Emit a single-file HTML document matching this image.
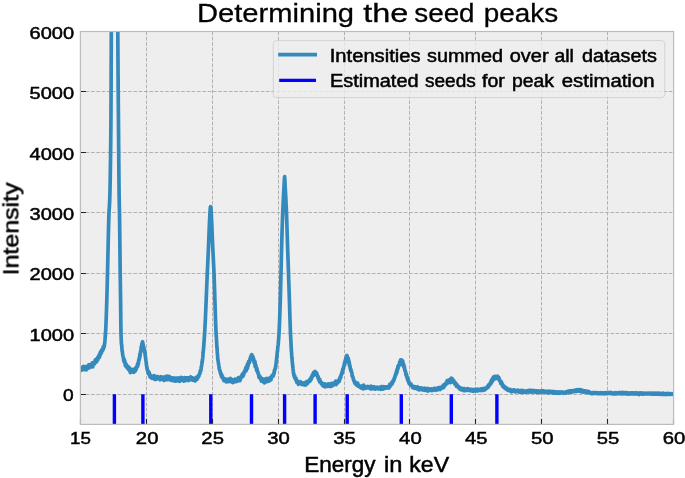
<!DOCTYPE html>
<html><head><meta charset="utf-8"><title>Determining the seed peaks</title>
<style>html,body{margin:0;padding:0;background:#fff;}body{width:685px;height:478px;overflow:hidden;font-family:"Liberation Sans",sans-serif;}</style></head>
<body>
<svg width="685" height="478" viewBox="0 0 685 478" style="display:block" font-family="Liberation Sans, sans-serif">
<rect width="685" height="478" fill="#fff"/>
<rect x="80.4" y="31.5" width="593.2" height="392.9" fill="#eeeeee"/>
<defs><clipPath id="c"><rect x="80.4" y="31.5" width="593.2" height="392.9"/></clipPath></defs>
<path d="M146.50,31.5V424.4M212.50,31.5V424.4M278.50,31.5V424.4M344.50,31.5V424.4M409.50,31.5V424.4M475.50,31.5V424.4M541.50,31.5V424.4M607.50,31.5V424.4M80.4,394.50H673.6M80.4,333.50H673.6M80.4,273.50H673.6M80.4,212.50H673.6M80.4,152.50H673.6M80.4,91.50H673.6" stroke="#b2b2b2" stroke-width="1" stroke-dasharray="3.7,1.6" fill="none"/>
<path clip-path="url(#c)" d="M80.40,369.1 L80.52,369.4 L80.64,368.8 L80.76,368.2 L80.88,368.6 L81.00,368.1 L81.12,369.1 L81.24,370.4 L81.36,368.5 L81.48,368.4 L81.60,369.5 L81.72,369.3 L81.84,369.1 L81.96,368.0 L82.08,368.9 L82.20,369.6 L82.32,367.6 L82.44,368.5 L82.56,367.0 L82.68,367.6 L82.80,367.0 L82.92,368.6 L83.04,367.6 L83.16,369.1 L83.28,369.0 L83.40,368.6 L83.52,366.3 L83.64,368.2 L83.76,368.7 L83.88,368.8 L84.00,367.2 L84.12,368.2 L84.24,367.7 L84.36,367.8 L84.48,369.6 L84.60,367.7 L84.72,368.5 L84.84,369.4 L84.96,367.8 L85.08,368.3 L85.20,368.5 L85.32,368.4 L85.44,367.0 L85.56,368.3 L85.68,369.5 L85.80,366.5 L85.92,368.9 L86.04,368.1 L86.16,367.3 L86.28,369.9 L86.40,368.6 L86.52,366.5 L86.64,367.7 L86.76,368.2 L86.88,367.3 L87.00,368.2 L87.12,367.3 L87.24,368.0 L87.36,368.7 L87.48,366.5 L87.60,367.3 L87.72,366.6 L87.84,367.1 L87.96,365.7 L88.08,366.3 L88.20,366.6 L88.32,367.7 L88.44,367.9 L88.56,365.3 L88.68,365.8 L88.80,367.2 L88.92,364.5 L89.04,366.0 L89.16,366.3 L89.28,367.7 L89.40,367.0 L89.52,366.0 L89.64,365.9 L89.76,366.0 L89.88,367.7 L90.00,365.7 L90.12,365.8 L90.24,366.4 L90.36,365.9 L90.48,365.8 L90.60,364.8 L90.72,365.9 L90.84,365.4 L90.96,367.0 L91.08,366.4 L91.20,365.6 L91.32,366.3 L91.44,365.2 L91.56,366.6 L91.68,365.4 L91.80,365.9 L91.92,363.9 L92.04,365.6 L92.16,363.4 L92.28,362.9 L92.40,364.6 L92.52,363.9 L92.64,364.9 L92.76,367.0 L92.88,363.7 L93.00,363.8 L93.12,364.6 L93.24,364.8 L93.36,364.0 L93.48,363.8 L93.60,364.6 L93.72,364.3 L93.84,362.6 L93.96,363.4 L94.08,363.4 L94.20,362.2 L94.32,363.4 L94.44,362.1 L94.56,363.9 L94.68,362.9 L94.80,362.7 L94.92,361.9 L95.04,362.2 L95.16,360.1 L95.28,360.9 L95.40,362.3 L95.52,359.5 L95.64,362.5 L95.76,359.6 L95.88,362.1 L96.00,360.3 L96.12,361.8 L96.24,361.0 L96.36,359.1 L96.48,361.8 L96.60,361.8 L96.72,360.1 L96.84,359.7 L96.96,359.7 L97.08,358.7 L97.20,360.6 L97.32,358.7 L97.44,359.1 L97.56,358.1 L97.68,358.1 L97.80,357.2 L97.92,359.6 L98.04,358.0 L98.16,358.9 L98.28,357.8 L98.40,356.8 L98.52,357.0 L98.64,356.6 L98.76,356.9 L98.88,356.3 L99.00,356.2 L99.12,354.9 L99.24,355.2 L99.36,357.5 L99.48,354.9 L99.60,354.3 L99.72,355.5 L99.84,356.4 L99.96,353.2 L100.08,354.2 L100.20,353.6 L100.32,352.1 L100.44,354.5 L100.56,353.5 L100.68,353.3 L100.80,352.2 L100.92,353.3 L101.04,352.0 L101.16,352.1 L101.28,350.9 L101.40,350.5 L101.52,353.0 L101.64,350.8 L101.76,351.4 L101.88,350.8 L102.00,350.1 L102.12,349.8 L102.24,350.7 L102.36,349.5 L102.48,349.4 L102.60,349.4 L102.72,350.4 L102.84,349.7 L102.96,349.1 L103.08,347.9 L103.20,346.8 L103.32,349.1 L103.44,348.8 L103.56,347.4 L103.68,347.8 L103.80,347.7 L103.92,347.4 L104.04,347.1 L104.16,345.5 L104.28,346.7 L104.40,343.9 L104.52,344.7 L104.64,343.5 L104.76,342.7 L104.88,342.1 L105.00,340.0 L105.12,338.2 L105.24,336.6 L105.36,335.5 L105.48,333.6 L105.60,331.9 L105.72,329.9 L105.84,327.1 L105.96,324.3 L106.08,321.5 L106.20,318.2 L106.32,314.8 L106.44,311.2 L106.56,307.5 L106.68,303.7 L106.80,300.0 L106.92,295.9 L107.04,291.4 L107.16,286.8 L107.28,281.9 L107.40,277.1 L107.52,272.2 L107.64,267.3 L107.76,262.1 L107.88,256.8 L108.00,251.5 L108.12,246.0 L108.24,240.7 L108.36,235.5 L108.48,230.6 L108.60,225.6 L108.72,221.5 L108.84,217.5 L108.96,214.1 L109.08,211.2 L109.20,209.1 L109.32,207.5 L109.44,205.5 L109.56,203.4 L109.68,200.6 L109.80,197.3 L109.92,193.0 L110.04,188.0 L110.16,182.5 L110.28,175.9 L110.40,168.3 L110.52,159.9 L110.64,150.3 L110.76,139.4 L110.88,127.2 L111.00,109.2 L111.12,80.9 L111.24,47.9 L111.36,15.4 L111.48,-17.7 L111.60,-50.0 L111.72,-50.0 L111.84,-50.0 L111.96,-50.0 L112.08,-50.0 L112.20,-50.0 L112.32,-50.0 L112.44,-50.0 L112.56,-50.0 L112.68,-50.0 L112.80,-50.0 L112.92,-50.0 L113.04,-50.0 L113.16,-50.0 L113.28,-50.0 L113.40,-50.0 L113.52,-50.0 L113.64,-50.0 L113.76,-50.0 L113.88,-50.0 L114.00,-50.0 L114.12,-50.0 L114.24,-50.0 L114.36,-50.0 L114.48,-50.0 L114.60,-50.0 L114.72,-50.0 L114.84,-50.0 L114.96,-50.0 L115.08,-50.0 L115.20,-50.0 L115.32,-50.0 L115.44,-50.0 L115.56,-50.0 L115.68,-50.0 L115.80,-50.0 L115.92,-50.0 L116.04,-50.0 L116.16,-50.0 L116.28,-50.0 L116.40,-50.0 L116.52,-50.0 L116.64,-50.0 L116.76,-50.0 L116.88,-50.0 L117.00,-50.0 L117.12,-50.0 L117.24,-50.0 L117.36,-50.0 L117.48,-43.1 L117.60,-11.6 L117.72,15.8 L117.84,38.6 L117.96,58.0 L118.08,74.8 L118.20,90.0 L118.32,104.1 L118.44,117.9 L118.56,132.2 L118.68,147.2 L118.80,161.9 L118.92,175.7 L119.04,187.9 L119.16,197.5 L119.28,203.9 L119.40,208.5 L119.52,214.2 L119.64,222.5 L119.76,232.9 L119.88,244.3 L120.00,255.7 L120.12,266.6 L120.24,275.9 L120.36,284.0 L120.48,291.6 L120.60,300.0 L120.72,310.9 L120.84,322.8 L120.96,332.0 L121.08,336.0 L121.20,338.8 L121.32,341.3 L121.44,343.9 L121.56,344.5 L121.68,345.6 L121.80,346.5 L121.92,348.5 L122.04,350.5 L122.16,351.3 L122.28,351.1 L122.40,352.0 L122.52,353.1 L122.64,354.5 L122.76,354.8 L122.88,355.8 L123.00,356.5 L123.12,356.6 L123.24,357.3 L123.36,358.0 L123.48,358.3 L123.60,359.2 L123.72,360.8 L123.84,360.2 L123.96,360.2 L124.08,359.2 L124.20,361.2 L124.32,359.7 L124.44,360.4 L124.56,362.7 L124.68,362.9 L124.80,362.5 L124.92,361.4 L125.04,362.8 L125.16,362.8 L125.28,364.2 L125.40,365.9 L125.52,364.3 L125.64,363.7 L125.76,363.6 L125.88,364.8 L126.00,364.9 L126.12,364.2 L126.24,365.6 L126.36,364.6 L126.48,366.8 L126.60,367.0 L126.72,367.2 L126.84,366.0 L126.96,367.1 L127.08,366.7 L127.20,366.6 L127.32,366.8 L127.44,366.1 L127.56,366.1 L127.68,368.3 L127.80,367.5 L127.92,368.0 L128.04,368.9 L128.16,366.5 L128.28,367.5 L128.40,368.5 L128.52,368.9 L128.64,368.3 L128.76,369.7 L128.88,369.1 L129.00,368.0 L129.12,368.3 L129.24,370.1 L129.36,369.9 L129.48,367.8 L129.60,370.9 L129.72,370.4 L129.84,371.2 L129.96,369.7 L130.08,369.9 L130.20,369.2 L130.32,372.7 L130.44,370.2 L130.56,372.0 L130.68,369.9 L130.80,370.8 L130.92,369.0 L131.04,370.3 L131.16,371.7 L131.28,369.5 L131.40,371.9 L131.52,371.1 L131.64,369.8 L131.76,370.3 L131.88,370.4 L132.00,370.8 L132.12,370.3 L132.24,370.0 L132.36,370.6 L132.48,369.8 L132.60,369.6 L132.72,370.8 L132.84,371.7 L132.96,369.3 L133.08,370.9 L133.20,370.2 L133.32,369.9 L133.44,371.7 L133.56,370.3 L133.68,372.3 L133.80,370.0 L133.92,371.1 L134.04,370.5 L134.16,370.0 L134.28,371.3 L134.40,370.5 L134.52,371.2 L134.64,370.6 L134.76,369.5 L134.88,370.4 L135.00,370.5 L135.12,371.2 L135.24,369.4 L135.36,370.0 L135.48,368.4 L135.60,370.2 L135.72,368.5 L135.84,367.7 L135.96,369.0 L136.08,369.7 L136.20,367.3 L136.32,367.4 L136.44,367.4 L136.56,366.8 L136.68,367.8 L136.80,366.6 L136.92,366.4 L137.04,367.2 L137.16,365.8 L137.28,366.4 L137.40,364.9 L137.52,364.4 L137.64,363.5 L137.76,366.1 L137.88,364.0 L138.00,364.0 L138.12,363.4 L138.24,363.1 L138.36,362.6 L138.48,363.6 L138.60,360.8 L138.72,359.9 L138.84,359.9 L138.96,359.1 L139.08,360.3 L139.20,359.9 L139.32,357.9 L139.44,357.1 L139.56,357.4 L139.68,358.2 L139.80,354.3 L139.92,356.4 L140.04,354.6 L140.16,355.6 L140.28,353.4 L140.40,353.2 L140.52,351.6 L140.64,351.2 L140.76,352.1 L140.88,350.9 L141.00,349.3 L141.12,348.1 L141.24,346.6 L141.36,347.0 L141.48,346.7 L141.60,346.0 L141.72,345.3 L141.84,343.8 L141.96,343.9 L142.08,343.3 L142.20,344.1 L142.32,344.5 L142.44,342.0 L142.56,341.8 L142.68,343.0 L142.80,343.0 L142.92,343.4 L143.04,344.5 L143.16,344.3 L143.28,346.2 L143.40,346.0 L143.52,346.9 L143.64,347.0 L143.76,347.1 L143.88,347.4 L144.00,348.6 L144.12,348.9 L144.24,350.2 L144.36,350.6 L144.48,350.1 L144.60,351.9 L144.72,351.4 L144.84,352.6 L144.96,353.5 L145.08,352.9 L145.20,355.3 L145.32,356.1 L145.44,356.8 L145.56,357.5 L145.68,358.5 L145.80,359.1 L145.92,360.5 L146.04,361.3 L146.16,362.6 L146.28,362.8 L146.40,364.6 L146.52,365.4 L146.64,366.1 L146.76,366.6 L146.88,368.0 L147.00,367.2 L147.12,369.1 L147.24,369.5 L147.36,369.9 L147.48,370.4 L147.60,370.0 L147.72,370.7 L147.84,371.7 L147.96,371.9 L148.08,372.0 L148.20,371.1 L148.32,372.9 L148.44,373.7 L148.56,373.8 L148.68,373.5 L148.80,372.4 L148.92,374.5 L149.04,373.9 L149.16,372.3 L149.28,374.7 L149.40,373.5 L149.52,373.8 L149.64,374.5 L149.76,376.2 L149.88,375.0 L150.00,375.7 L150.12,377.0 L150.24,377.1 L150.36,375.9 L150.48,376.0 L150.60,375.3 L150.72,375.9 L150.84,376.9 L150.96,377.0 L151.08,376.9 L151.20,377.7 L151.32,376.5 L151.44,377.1 L151.56,377.9 L151.68,377.8 L151.80,378.3 L151.92,377.9 L152.04,377.3 L152.16,377.9 L152.28,376.9 L152.40,376.3 L152.52,378.2 L152.64,377.7 L152.76,378.0 L152.88,376.4 L153.00,377.5 L153.12,377.3 L153.24,377.1 L153.36,375.9 L153.48,377.6 L153.60,378.6 L153.72,378.2 L153.84,377.4 L153.96,377.9 L154.08,378.5 L154.20,375.6 L154.32,377.8 L154.44,378.4 L154.56,378.5 L154.68,379.3 L154.80,378.9 L154.92,378.2 L155.04,378.2 L155.16,378.6 L155.28,377.4 L155.40,377.9 L155.52,378.7 L155.64,379.5 L155.76,377.8 L155.88,377.9 L156.00,378.1 L156.12,379.0 L156.24,377.9 L156.36,379.1 L156.48,377.1 L156.60,377.7 L156.72,377.7 L156.84,378.5 L156.96,378.7 L157.08,376.6 L157.20,377.1 L157.32,378.1 L157.44,377.3 L157.56,376.6 L157.68,378.7 L157.80,378.2 L157.92,378.2 L158.04,377.4 L158.16,378.7 L158.28,377.6 L158.40,378.7 L158.52,377.0 L158.64,377.1 L158.76,378.0 L158.88,377.2 L159.00,378.4 L159.12,378.0 L159.24,377.0 L159.36,377.9 L159.48,377.5 L159.60,378.6 L159.72,377.3 L159.84,377.5 L159.96,378.9 L160.08,379.8 L160.20,379.6 L160.32,378.0 L160.44,378.1 L160.56,379.3 L160.68,377.9 L160.80,377.2 L160.92,378.1 L161.04,378.4 L161.16,377.4 L161.28,376.7 L161.40,376.9 L161.52,378.7 L161.64,377.5 L161.76,378.1 L161.88,378.4 L162.00,378.7 L162.12,378.0 L162.24,378.7 L162.36,377.5 L162.48,378.0 L162.60,377.4 L162.72,379.3 L162.84,378.3 L162.96,377.7 L163.08,378.1 L163.20,378.2 L163.32,379.0 L163.44,377.0 L163.56,377.5 L163.68,378.0 L163.80,380.5 L163.92,379.2 L164.04,378.3 L164.16,379.0 L164.28,380.1 L164.40,378.1 L164.52,378.0 L164.64,379.3 L164.76,378.7 L164.88,378.9 L165.00,377.9 L165.12,379.9 L165.24,379.7 L165.36,378.7 L165.48,378.8 L165.60,376.5 L165.72,378.8 L165.84,378.0 L165.96,378.6 L166.08,378.8 L166.20,377.9 L166.32,376.7 L166.44,378.5 L166.56,377.5 L166.68,377.8 L166.80,377.6 L166.92,377.8 L167.04,376.2 L167.16,379.1 L167.28,378.3 L167.40,379.0 L167.52,379.7 L167.64,378.1 L167.76,376.5 L167.88,377.3 L168.00,377.0 L168.12,377.6 L168.24,378.1 L168.36,376.3 L168.48,378.3 L168.60,376.7 L168.72,378.3 L168.84,377.9 L168.96,377.8 L169.08,378.0 L169.20,377.6 L169.32,377.5 L169.44,376.6 L169.56,378.0 L169.68,379.6 L169.80,379.8 L169.92,379.2 L170.04,378.7 L170.16,377.6 L170.28,379.4 L170.40,378.2 L170.52,378.2 L170.64,378.1 L170.76,378.4 L170.88,378.0 L171.00,378.4 L171.12,377.6 L171.24,378.2 L171.36,380.5 L171.48,378.6 L171.60,378.5 L171.72,379.2 L171.84,379.4 L171.96,377.9 L172.08,378.7 L172.20,379.7 L172.32,379.2 L172.44,379.2 L172.56,380.4 L172.68,378.6 L172.80,379.3 L172.92,378.9 L173.04,380.6 L173.16,377.8 L173.28,378.9 L173.40,379.1 L173.52,380.1 L173.64,380.1 L173.76,380.8 L173.88,378.4 L174.00,380.3 L174.12,379.5 L174.24,379.2 L174.36,380.2 L174.48,379.1 L174.60,378.1 L174.72,379.6 L174.84,378.6 L174.96,379.4 L175.08,380.2 L175.20,380.2 L175.32,381.2 L175.44,379.8 L175.56,378.7 L175.68,379.3 L175.80,379.2 L175.92,378.9 L176.04,380.3 L176.16,379.4 L176.28,378.2 L176.40,380.4 L176.52,379.8 L176.64,380.1 L176.76,379.9 L176.88,380.3 L177.00,379.8 L177.12,380.8 L177.24,380.1 L177.36,380.0 L177.48,380.0 L177.60,378.4 L177.72,379.5 L177.84,379.4 L177.96,379.7 L178.08,378.4 L178.20,380.9 L178.32,379.6 L178.44,378.5 L178.56,378.0 L178.68,379.2 L178.80,379.3 L178.92,378.8 L179.04,379.4 L179.16,378.8 L179.28,379.8 L179.40,378.7 L179.52,379.3 L179.64,380.1 L179.76,381.4 L179.88,378.4 L180.00,378.9 L180.12,378.5 L180.24,379.9 L180.36,378.3 L180.48,378.8 L180.60,379.2 L180.72,378.4 L180.84,378.4 L180.96,378.8 L181.08,377.4 L181.20,378.0 L181.32,378.8 L181.44,379.3 L181.56,379.0 L181.68,377.7 L181.80,378.7 L181.92,379.8 L182.04,379.6 L182.16,379.0 L182.28,378.4 L182.40,379.6 L182.52,378.6 L182.64,378.1 L182.76,378.4 L182.88,380.3 L183.00,379.2 L183.12,380.0 L183.24,378.6 L183.36,379.8 L183.48,378.5 L183.60,378.9 L183.72,381.1 L183.84,379.6 L183.96,378.5 L184.08,378.9 L184.20,379.2 L184.32,379.9 L184.44,378.5 L184.56,377.5 L184.68,378.7 L184.80,378.9 L184.92,379.0 L185.04,380.0 L185.16,379.1 L185.28,379.5 L185.40,377.9 L185.52,379.6 L185.64,380.6 L185.76,379.5 L185.88,379.0 L186.00,378.9 L186.12,380.3 L186.24,378.0 L186.36,378.7 L186.48,379.2 L186.60,379.4 L186.72,378.4 L186.84,379.0 L186.96,378.5 L187.08,378.9 L187.20,378.6 L187.32,377.8 L187.44,378.7 L187.56,379.5 L187.68,377.9 L187.80,378.5 L187.92,379.3 L188.04,377.8 L188.16,378.8 L188.28,377.8 L188.40,379.6 L188.52,380.6 L188.64,380.3 L188.76,378.5 L188.88,379.3 L189.00,378.7 L189.12,378.7 L189.24,379.9 L189.36,377.5 L189.48,379.5 L189.60,378.6 L189.72,379.8 L189.84,378.8 L189.96,378.1 L190.08,378.9 L190.20,379.3 L190.32,378.7 L190.44,379.1 L190.56,378.2 L190.68,376.9 L190.80,379.4 L190.92,379.3 L191.04,378.8 L191.16,378.8 L191.28,379.6 L191.40,378.4 L191.52,378.2 L191.64,378.6 L191.76,379.8 L191.88,377.7 L192.00,379.8 L192.12,378.3 L192.24,378.0 L192.36,379.9 L192.48,378.8 L192.60,377.8 L192.72,378.6 L192.84,379.7 L192.96,380.0 L193.08,378.6 L193.20,379.3 L193.32,379.6 L193.44,378.5 L193.56,379.3 L193.68,379.0 L193.80,378.6 L193.92,378.7 L194.04,379.1 L194.16,379.1 L194.28,378.6 L194.40,378.7 L194.52,380.0 L194.64,379.3 L194.76,379.8 L194.88,380.1 L195.00,379.6 L195.12,381.0 L195.24,378.4 L195.36,379.8 L195.48,378.8 L195.60,380.6 L195.72,380.5 L195.84,377.5 L195.96,378.3 L196.08,379.6 L196.20,379.7 L196.32,379.7 L196.44,379.0 L196.56,379.3 L196.68,379.4 L196.80,378.7 L196.92,379.5 L197.04,376.9 L197.16,378.9 L197.28,377.5 L197.40,378.8 L197.52,377.8 L197.64,377.1 L197.76,377.8 L197.88,376.7 L198.00,376.5 L198.12,375.8 L198.24,376.7 L198.36,376.9 L198.48,377.0 L198.60,375.9 L198.72,376.6 L198.84,375.6 L198.96,375.3 L199.08,375.5 L199.20,375.5 L199.32,374.2 L199.44,374.0 L199.56,373.7 L199.68,373.5 L199.80,372.5 L199.92,373.5 L200.04,372.1 L200.16,372.3 L200.28,370.9 L200.40,371.3 L200.52,370.9 L200.64,369.8 L200.76,371.0 L200.88,369.4 L201.00,369.8 L201.12,368.7 L201.24,367.0 L201.36,366.6 L201.48,366.5 L201.60,365.7 L201.72,365.0 L201.84,364.1 L201.96,362.4 L202.08,362.8 L202.20,360.8 L202.32,361.6 L202.44,360.0 L202.56,359.0 L202.68,358.2 L202.80,357.4 L202.92,355.2 L203.04,353.8 L203.16,352.8 L203.28,350.8 L203.40,349.9 L203.52,349.7 L203.64,346.8 L203.76,346.0 L203.88,343.4 L204.00,342.5 L204.12,340.5 L204.24,338.8 L204.36,337.1 L204.48,335.5 L204.60,333.4 L204.72,331.5 L204.84,329.3 L204.96,327.3 L205.08,324.9 L205.20,322.7 L205.32,320.0 L205.44,317.6 L205.56,314.5 L205.68,312.0 L205.80,309.3 L205.92,306.3 L206.04,303.3 L206.16,300.5 L206.28,297.4 L206.40,294.6 L206.52,291.9 L206.64,288.8 L206.76,285.6 L206.88,282.7 L207.00,279.9 L207.12,277.3 L207.24,274.3 L207.36,271.7 L207.48,269.2 L207.60,266.6 L207.72,263.8 L207.84,261.1 L207.96,258.4 L208.08,255.8 L208.20,253.0 L208.32,250.7 L208.44,247.8 L208.56,245.1 L208.68,242.4 L208.80,239.3 L208.92,235.9 L209.04,232.9 L209.16,229.9 L209.28,226.7 L209.40,224.0 L209.52,221.8 L209.64,219.3 L209.76,217.3 L209.88,214.4 L210.00,212.3 L210.12,210.4 L210.24,208.6 L210.36,207.4 L210.48,206.7 L210.60,207.2 L210.72,207.0 L210.84,206.9 L210.96,208.7 L211.08,210.3 L211.20,212.5 L211.32,214.7 L211.44,217.0 L211.56,219.4 L211.68,221.9 L211.80,224.2 L211.92,226.8 L212.04,230.0 L212.16,233.2 L212.28,236.0 L212.40,239.3 L212.52,242.5 L212.64,245.1 L212.76,247.7 L212.88,250.1 L213.00,252.5 L213.12,254.9 L213.24,257.2 L213.36,259.7 L213.48,261.9 L213.60,264.3 L213.72,266.7 L213.84,269.4 L213.96,272.0 L214.08,275.0 L214.20,278.3 L214.32,281.6 L214.44,285.2 L214.56,288.9 L214.68,292.7 L214.80,296.6 L214.92,300.6 L215.04,304.6 L215.16,308.4 L215.28,312.4 L215.40,316.0 L215.52,319.5 L215.64,322.9 L215.76,326.1 L215.88,329.1 L216.00,331.5 L216.12,334.1 L216.24,335.9 L216.36,337.7 L216.48,339.8 L216.60,341.1 L216.72,343.9 L216.84,346.2 L216.96,347.8 L217.08,348.6 L217.20,350.5 L217.32,353.3 L217.44,354.1 L217.56,355.3 L217.68,357.2 L217.80,359.3 L217.92,359.8 L218.04,360.3 L218.16,361.4 L218.28,362.5 L218.40,362.6 L218.52,363.0 L218.64,364.5 L218.76,364.6 L218.88,365.8 L219.00,366.6 L219.12,368.7 L219.24,367.2 L219.36,368.3 L219.48,368.9 L219.60,369.8 L219.72,370.8 L219.84,370.3 L219.96,370.5 L220.08,370.5 L220.20,371.4 L220.32,372.8 L220.44,372.9 L220.56,372.5 L220.68,373.4 L220.80,374.0 L220.92,374.6 L221.04,374.2 L221.16,374.7 L221.28,373.9 L221.40,374.6 L221.52,376.8 L221.64,374.3 L221.76,375.9 L221.88,376.5 L222.00,376.3 L222.12,376.2 L222.24,377.0 L222.36,377.2 L222.48,377.4 L222.60,376.3 L222.72,377.8 L222.84,377.4 L222.96,377.9 L223.08,378.6 L223.20,379.1 L223.32,379.4 L223.44,378.6 L223.56,379.7 L223.68,380.1 L223.80,380.2 L223.92,380.5 L224.04,379.5 L224.16,379.6 L224.28,380.4 L224.40,378.9 L224.52,380.2 L224.64,379.7 L224.76,379.9 L224.88,378.9 L225.00,379.5 L225.12,380.3 L225.24,381.0 L225.36,381.1 L225.48,380.3 L225.60,380.2 L225.72,379.8 L225.84,380.7 L225.96,380.2 L226.08,380.9 L226.20,381.8 L226.32,380.5 L226.44,379.3 L226.56,379.8 L226.68,379.4 L226.80,379.6 L226.92,381.5 L227.04,380.7 L227.16,379.3 L227.28,381.0 L227.40,381.5 L227.52,380.2 L227.64,380.0 L227.76,380.2 L227.88,380.7 L228.00,381.0 L228.12,381.4 L228.24,381.4 L228.36,381.4 L228.48,381.5 L228.60,381.0 L228.72,379.2 L228.84,380.3 L228.96,380.7 L229.08,380.1 L229.20,381.1 L229.32,380.1 L229.44,379.7 L229.56,381.5 L229.68,380.9 L229.80,380.5 L229.92,381.1 L230.04,381.2 L230.16,380.6 L230.28,378.4 L230.40,379.8 L230.52,380.0 L230.64,379.6 L230.76,380.5 L230.88,381.3 L231.00,380.0 L231.12,379.5 L231.24,382.0 L231.36,380.0 L231.48,379.4 L231.60,380.6 L231.72,380.7 L231.84,379.9 L231.96,381.0 L232.08,380.0 L232.20,379.7 L232.32,380.5 L232.44,381.0 L232.56,379.9 L232.68,380.7 L232.80,380.3 L232.92,382.6 L233.04,379.8 L233.16,381.5 L233.28,380.3 L233.40,380.3 L233.52,380.9 L233.64,381.0 L233.76,381.3 L233.88,380.6 L234.00,379.9 L234.12,379.9 L234.24,380.7 L234.36,380.8 L234.48,381.4 L234.60,380.6 L234.72,381.1 L234.84,381.5 L234.96,380.4 L235.08,379.1 L235.20,379.4 L235.32,379.2 L235.44,381.6 L235.56,379.7 L235.68,381.3 L235.80,380.8 L235.92,381.7 L236.04,381.1 L236.16,380.3 L236.28,380.2 L236.40,380.4 L236.52,380.4 L236.64,379.9 L236.76,380.2 L236.88,381.4 L237.00,378.9 L237.12,380.3 L237.24,379.4 L237.36,380.2 L237.48,380.7 L237.60,379.9 L237.72,380.5 L237.84,378.7 L237.96,380.6 L238.08,379.3 L238.20,380.2 L238.32,379.8 L238.44,377.6 L238.56,378.9 L238.68,379.6 L238.80,380.6 L238.92,379.5 L239.04,379.4 L239.16,378.1 L239.28,380.2 L239.40,380.4 L239.52,379.0 L239.64,378.7 L239.76,377.5 L239.88,379.3 L240.00,380.6 L240.12,378.9 L240.24,379.2 L240.36,378.6 L240.48,377.3 L240.60,378.9 L240.72,376.8 L240.84,377.5 L240.96,377.7 L241.08,378.0 L241.20,377.5 L241.32,377.3 L241.44,376.3 L241.56,375.8 L241.68,376.6 L241.80,375.9 L241.92,375.3 L242.04,375.1 L242.16,375.5 L242.28,374.3 L242.40,374.6 L242.52,374.2 L242.64,375.4 L242.76,375.4 L242.88,376.5 L243.00,373.6 L243.12,374.0 L243.24,375.1 L243.36,374.0 L243.48,373.8 L243.60,375.1 L243.72,373.4 L243.84,372.5 L243.96,372.2 L244.08,373.3 L244.20,373.0 L244.32,371.5 L244.44,371.6 L244.56,372.5 L244.68,372.4 L244.80,371.2 L244.92,371.9 L245.04,371.6 L245.16,369.5 L245.28,370.5 L245.40,370.8 L245.52,369.8 L245.64,368.2 L245.76,369.5 L245.88,370.1 L246.00,370.5 L246.12,367.2 L246.24,370.8 L246.36,367.5 L246.48,369.0 L246.60,368.9 L246.72,368.5 L246.84,367.5 L246.96,366.1 L247.08,367.4 L247.20,366.0 L247.32,364.2 L247.44,368.4 L247.56,366.4 L247.68,367.1 L247.80,364.4 L247.92,366.2 L248.04,366.1 L248.16,365.8 L248.28,364.1 L248.40,362.8 L248.52,363.4 L248.64,361.3 L248.76,361.4 L248.88,362.7 L249.00,361.4 L249.12,361.8 L249.24,361.5 L249.36,363.0 L249.48,362.2 L249.60,360.6 L249.72,361.5 L249.84,359.3 L249.96,359.4 L250.08,360.3 L250.20,358.0 L250.32,358.6 L250.44,357.3 L250.56,358.4 L250.68,359.6 L250.80,357.0 L250.92,357.6 L251.04,356.2 L251.16,355.7 L251.28,355.3 L251.40,357.7 L251.52,358.5 L251.64,356.3 L251.76,354.7 L251.88,356.5 L252.00,355.5 L252.12,356.9 L252.24,356.7 L252.36,356.9 L252.48,357.5 L252.60,356.8 L252.72,357.3 L252.84,356.3 L252.96,357.8 L253.08,357.2 L253.20,358.7 L253.32,358.2 L253.44,359.5 L253.56,360.1 L253.68,358.8 L253.80,359.7 L253.92,359.9 L254.04,361.7 L254.16,362.9 L254.28,362.5 L254.40,361.8 L254.52,363.7 L254.64,361.5 L254.76,364.4 L254.88,362.9 L255.00,361.5 L255.12,366.4 L255.24,365.8 L255.36,364.0 L255.48,365.4 L255.60,365.4 L255.72,366.0 L255.84,365.1 L255.96,366.1 L256.08,367.4 L256.20,367.6 L256.32,368.7 L256.44,368.2 L256.56,370.3 L256.68,368.4 L256.80,369.5 L256.92,368.3 L257.04,369.2 L257.16,371.4 L257.28,370.1 L257.40,371.6 L257.52,371.5 L257.64,371.2 L257.76,372.0 L257.88,372.3 L258.00,372.7 L258.12,373.9 L258.24,374.1 L258.36,373.6 L258.48,373.7 L258.60,374.8 L258.72,374.8 L258.84,375.9 L258.96,377.4 L259.08,376.3 L259.20,375.9 L259.32,376.1 L259.44,375.8 L259.56,375.9 L259.68,376.1 L259.80,376.7 L259.92,376.9 L260.04,377.9 L260.16,377.3 L260.28,377.6 L260.40,377.0 L260.52,379.3 L260.64,378.6 L260.76,379.7 L260.88,379.1 L261.00,379.8 L261.12,378.6 L261.24,379.5 L261.36,381.1 L261.48,378.3 L261.60,380.2 L261.72,380.6 L261.84,379.8 L261.96,380.1 L262.08,380.6 L262.20,379.2 L262.32,380.1 L262.44,379.1 L262.56,379.3 L262.68,379.5 L262.80,379.9 L262.92,380.2 L263.04,380.5 L263.16,379.1 L263.28,381.8 L263.40,381.2 L263.52,380.9 L263.64,380.1 L263.76,380.4 L263.88,381.0 L264.00,380.9 L264.12,379.3 L264.24,381.2 L264.36,383.0 L264.48,379.2 L264.60,381.5 L264.72,381.0 L264.84,380.6 L264.96,381.8 L265.08,379.8 L265.20,380.9 L265.32,381.9 L265.44,380.5 L265.56,380.4 L265.68,380.8 L265.80,380.3 L265.92,381.9 L266.04,379.9 L266.16,381.3 L266.28,379.6 L266.40,381.1 L266.52,380.4 L266.64,378.4 L266.76,380.5 L266.88,379.6 L267.00,380.0 L267.12,381.6 L267.24,379.4 L267.36,379.4 L267.48,381.4 L267.60,380.3 L267.72,381.4 L267.84,380.4 L267.96,379.3 L268.08,379.9 L268.20,380.9 L268.32,380.7 L268.44,379.8 L268.56,379.8 L268.68,379.6 L268.80,379.2 L268.92,381.1 L269.04,379.5 L269.16,378.6 L269.28,379.0 L269.40,379.9 L269.52,379.8 L269.64,379.1 L269.76,378.6 L269.88,379.0 L270.00,377.6 L270.12,377.8 L270.24,379.4 L270.36,378.3 L270.48,378.9 L270.60,379.4 L270.72,378.9 L270.84,378.3 L270.96,379.8 L271.08,378.6 L271.20,377.7 L271.32,378.4 L271.44,378.0 L271.56,376.9 L271.68,377.5 L271.80,377.2 L271.92,375.7 L272.04,377.0 L272.16,376.7 L272.28,376.5 L272.40,375.4 L272.52,376.2 L272.64,376.3 L272.76,376.2 L272.88,375.0 L273.00,376.1 L273.12,374.5 L273.24,375.0 L273.36,375.8 L273.48,374.1 L273.60,373.9 L273.72,374.7 L273.84,373.3 L273.96,373.0 L274.08,373.0 L274.20,373.2 L274.32,370.5 L274.44,371.1 L274.56,370.6 L274.68,370.1 L274.80,369.8 L274.92,369.4 L275.04,369.7 L275.16,368.4 L275.28,368.6 L275.40,368.2 L275.52,366.8 L275.64,366.6 L275.76,366.7 L275.88,365.1 L276.00,363.6 L276.12,363.0 L276.24,361.5 L276.36,361.2 L276.48,360.5 L276.60,358.4 L276.72,357.7 L276.84,357.3 L276.96,355.2 L277.08,354.5 L277.20,352.7 L277.32,351.7 L277.44,350.8 L277.56,351.3 L277.68,348.7 L277.80,347.5 L277.92,346.3 L278.04,345.4 L278.16,344.7 L278.28,343.1 L278.40,342.8 L278.52,340.4 L278.64,339.0 L278.76,337.2 L278.88,335.5 L279.00,333.4 L279.12,331.5 L279.24,329.2 L279.36,326.6 L279.48,323.5 L279.60,320.8 L279.72,317.4 L279.84,314.0 L279.96,310.5 L280.08,306.9 L280.20,303.2 L280.32,299.3 L280.44,295.2 L280.56,290.8 L280.68,286.0 L280.80,281.1 L280.92,276.2 L281.04,271.3 L281.16,266.3 L281.28,261.2 L281.40,255.9 L281.52,251.0 L281.64,246.2 L281.76,241.8 L281.88,237.7 L282.00,233.4 L282.12,229.4 L282.24,225.7 L282.36,222.1 L282.48,218.7 L282.60,215.4 L282.72,212.4 L282.84,209.3 L282.96,206.9 L283.08,204.0 L283.20,201.6 L283.32,199.2 L283.44,196.8 L283.56,194.5 L283.68,192.4 L283.80,190.4 L283.92,188.3 L284.04,186.2 L284.16,183.6 L284.28,181.2 L284.40,179.1 L284.52,177.9 L284.64,176.7 L284.76,178.9 L284.88,180.5 L285.00,182.9 L285.12,185.5 L285.24,187.7 L285.36,189.7 L285.48,192.0 L285.60,194.0 L285.72,196.4 L285.84,198.7 L285.96,200.9 L286.08,203.6 L286.20,206.0 L286.32,208.7 L286.44,211.4 L286.56,214.4 L286.68,217.9 L286.80,221.3 L286.92,225.2 L287.04,229.1 L287.16,233.1 L287.28,236.8 L287.40,240.9 L287.52,244.6 L287.64,248.1 L287.76,251.6 L287.88,254.9 L288.00,258.6 L288.12,261.9 L288.24,265.5 L288.36,268.7 L288.48,272.5 L288.60,275.9 L288.72,279.6 L288.84,283.0 L288.96,286.7 L289.08,290.6 L289.20,293.9 L289.32,297.5 L289.44,301.2 L289.56,304.9 L289.68,309.1 L289.80,313.1 L289.92,316.9 L290.04,320.6 L290.16,324.6 L290.28,328.1 L290.40,331.3 L290.52,334.1 L290.64,336.4 L290.76,339.0 L290.88,340.8 L291.00,343.1 L291.12,346.2 L291.24,347.6 L291.36,350.8 L291.48,351.7 L291.60,353.2 L291.72,355.5 L291.84,357.5 L291.96,358.4 L292.08,358.9 L292.20,361.0 L292.32,362.8 L292.44,363.1 L292.56,364.2 L292.68,366.3 L292.80,367.0 L292.92,367.5 L293.04,368.9 L293.16,369.7 L293.28,371.2 L293.40,372.0 L293.52,373.3 L293.64,373.8 L293.76,373.2 L293.88,374.9 L294.00,375.7 L294.12,375.8 L294.24,376.6 L294.36,375.9 L294.48,376.0 L294.60,377.6 L294.72,376.6 L294.84,376.1 L294.96,378.5 L295.08,377.6 L295.20,378.1 L295.32,377.6 L295.44,377.9 L295.56,378.3 L295.68,379.0 L295.80,379.7 L295.92,378.1 L296.04,380.4 L296.16,379.3 L296.28,379.6 L296.40,380.9 L296.52,380.6 L296.64,379.8 L296.76,382.3 L296.88,380.7 L297.00,381.6 L297.12,381.7 L297.24,382.7 L297.36,381.6 L297.48,382.7 L297.60,381.6 L297.72,383.0 L297.84,381.8 L297.96,382.2 L298.08,383.8 L298.20,382.8 L298.32,382.7 L298.44,384.3 L298.56,383.0 L298.68,382.2 L298.80,383.4 L298.92,382.1 L299.04,383.7 L299.16,383.8 L299.28,382.6 L299.40,382.6 L299.52,383.2 L299.64,383.1 L299.76,382.4 L299.88,383.6 L300.00,381.7 L300.12,382.9 L300.24,382.9 L300.36,383.1 L300.48,383.5 L300.60,382.4 L300.72,383.7 L300.84,383.2 L300.96,382.9 L301.08,382.4 L301.20,382.5 L301.32,383.6 L301.44,382.7 L301.56,383.4 L301.68,384.2 L301.80,384.1 L301.92,384.5 L302.04,383.2 L302.16,382.7 L302.28,384.2 L302.40,383.7 L302.52,384.3 L302.64,383.5 L302.76,384.3 L302.88,384.1 L303.00,384.0 L303.12,383.9 L303.24,383.8 L303.36,383.7 L303.48,383.7 L303.60,384.3 L303.72,383.2 L303.84,384.8 L303.96,383.5 L304.08,384.3 L304.20,383.5 L304.32,383.4 L304.44,385.0 L304.56,383.4 L304.68,382.7 L304.80,383.1 L304.92,383.4 L305.04,385.2 L305.16,383.8 L305.28,384.3 L305.40,382.9 L305.52,383.9 L305.64,384.1 L305.76,384.9 L305.88,383.1 L306.00,383.9 L306.12,383.7 L306.24,382.7 L306.36,383.3 L306.48,383.1 L306.60,381.7 L306.72,383.5 L306.84,383.4 L306.96,382.6 L307.08,381.9 L307.20,383.7 L307.32,382.8 L307.44,383.2 L307.56,383.3 L307.68,381.9 L307.80,382.7 L307.92,381.9 L308.04,381.9 L308.16,381.8 L308.28,381.7 L308.40,382.3 L308.52,381.5 L308.64,381.2 L308.76,381.0 L308.88,381.3 L309.00,380.3 L309.12,380.4 L309.24,380.6 L309.36,380.1 L309.48,380.2 L309.60,379.7 L309.72,381.4 L309.84,380.7 L309.96,379.9 L310.08,379.4 L310.20,380.8 L310.32,379.4 L310.44,378.9 L310.56,379.0 L310.68,378.8 L310.80,379.5 L310.92,378.3 L311.04,379.6 L311.16,377.3 L311.28,378.2 L311.40,376.8 L311.52,378.6 L311.64,376.9 L311.76,376.9 L311.88,377.4 L312.00,377.4 L312.12,375.5 L312.24,375.8 L312.36,374.8 L312.48,375.8 L312.60,375.4 L312.72,375.0 L312.84,374.5 L312.96,374.6 L313.08,374.1 L313.20,375.0 L313.32,375.6 L313.44,372.7 L313.56,374.0 L313.68,373.6 L313.80,374.2 L313.92,372.9 L314.04,373.4 L314.16,372.5 L314.28,373.8 L314.40,373.2 L314.52,372.9 L314.64,373.2 L314.76,372.6 L314.88,371.3 L315.00,373.3 L315.12,373.0 L315.24,372.7 L315.36,373.8 L315.48,374.0 L315.60,372.1 L315.72,372.5 L315.84,374.6 L315.96,374.6 L316.08,373.0 L316.20,372.8 L316.32,373.4 L316.44,373.6 L316.56,372.9 L316.68,374.4 L316.80,373.5 L316.92,373.8 L317.04,375.7 L317.16,374.7 L317.28,375.4 L317.40,376.1 L317.52,376.5 L317.64,376.0 L317.76,376.5 L317.88,376.2 L318.00,378.2 L318.12,377.7 L318.24,376.8 L318.36,377.9 L318.48,378.6 L318.60,378.7 L318.72,379.9 L318.84,379.8 L318.96,378.8 L319.08,379.3 L319.20,378.7 L319.32,380.0 L319.44,380.1 L319.56,382.0 L319.68,380.5 L319.80,379.4 L319.92,380.5 L320.04,381.2 L320.16,380.6 L320.28,381.1 L320.40,381.6 L320.52,382.3 L320.64,382.2 L320.76,381.9 L320.88,383.1 L321.00,382.5 L321.12,382.7 L321.24,382.3 L321.36,382.8 L321.48,383.8 L321.60,382.5 L321.72,383.6 L321.84,384.2 L321.96,383.7 L322.08,384.2 L322.20,383.4 L322.32,385.1 L322.44,385.0 L322.56,384.6 L322.68,383.5 L322.80,384.0 L322.92,385.4 L323.04,385.9 L323.16,385.1 L323.28,385.8 L323.40,384.7 L323.52,385.1 L323.64,385.2 L323.76,385.6 L323.88,384.4 L324.00,386.0 L324.12,386.2 L324.24,384.7 L324.36,384.5 L324.48,385.6 L324.60,385.0 L324.72,383.8 L324.84,385.9 L324.96,385.5 L325.08,385.1 L325.20,386.8 L325.32,385.4 L325.44,384.8 L325.56,385.4 L325.68,384.6 L325.80,384.8 L325.92,385.5 L326.04,384.9 L326.16,385.0 L326.28,386.3 L326.40,385.8 L326.52,385.7 L326.64,385.5 L326.76,385.5 L326.88,386.1 L327.00,385.1 L327.12,386.4 L327.24,384.5 L327.36,385.0 L327.48,384.2 L327.60,384.9 L327.72,385.4 L327.84,386.1 L327.96,384.7 L328.08,385.1 L328.20,384.8 L328.32,384.6 L328.44,384.3 L328.56,385.1 L328.68,383.9 L328.80,385.2 L328.92,385.1 L329.04,384.7 L329.16,384.4 L329.28,384.2 L329.40,386.3 L329.52,384.2 L329.64,386.1 L329.76,385.5 L329.88,384.8 L330.00,384.3 L330.12,385.7 L330.24,386.2 L330.36,384.4 L330.48,384.8 L330.60,385.7 L330.72,385.2 L330.84,386.3 L330.96,384.6 L331.08,385.3 L331.20,384.1 L331.32,386.3 L331.44,384.4 L331.56,383.4 L331.68,384.7 L331.80,384.7 L331.92,386.0 L332.04,384.5 L332.16,384.6 L332.28,385.0 L332.40,385.6 L332.52,384.5 L332.64,385.2 L332.76,384.8 L332.88,384.2 L333.00,384.4 L333.12,384.3 L333.24,383.6 L333.36,385.0 L333.48,383.2 L333.60,384.9 L333.72,384.7 L333.84,383.9 L333.96,383.4 L334.08,383.7 L334.20,384.2 L334.32,384.3 L334.44,383.9 L334.56,384.3 L334.68,383.2 L334.80,383.7 L334.92,382.4 L335.04,384.0 L335.16,383.5 L335.28,383.0 L335.40,384.0 L335.52,383.7 L335.64,381.2 L335.76,383.1 L335.88,382.0 L336.00,383.7 L336.12,384.6 L336.24,382.5 L336.36,382.8 L336.48,382.5 L336.60,382.8 L336.72,383.0 L336.84,383.3 L336.96,381.7 L337.08,383.4 L337.20,381.6 L337.32,382.3 L337.44,382.9 L337.56,382.5 L337.68,381.2 L337.80,381.3 L337.92,381.4 L338.04,381.5 L338.16,382.2 L338.28,380.5 L338.40,381.5 L338.52,381.5 L338.64,381.4 L338.76,381.2 L338.88,381.7 L339.00,380.9 L339.12,381.0 L339.24,380.6 L339.36,381.2 L339.48,378.5 L339.60,380.4 L339.72,379.1 L339.84,378.9 L339.96,378.2 L340.08,377.3 L340.20,378.0 L340.32,377.5 L340.44,377.9 L340.56,376.3 L340.68,377.9 L340.80,376.8 L340.92,376.1 L341.04,375.5 L341.16,375.1 L341.28,374.5 L341.40,374.5 L341.52,374.5 L341.64,374.0 L341.76,372.7 L341.88,373.1 L342.00,372.3 L342.12,372.6 L342.24,373.4 L342.36,372.2 L342.48,371.1 L342.60,369.8 L342.72,369.5 L342.84,368.9 L342.96,370.3 L343.08,368.8 L343.20,369.0 L343.32,368.1 L343.44,368.2 L343.56,368.7 L343.68,366.7 L343.80,366.5 L343.92,365.7 L344.04,366.4 L344.16,364.5 L344.28,363.9 L344.40,363.2 L344.52,362.7 L344.64,363.6 L344.76,364.8 L344.88,361.6 L345.00,362.7 L345.12,361.8 L345.24,360.2 L345.36,360.6 L345.48,360.4 L345.60,359.7 L345.72,361.8 L345.84,357.9 L345.96,359.8 L346.08,359.5 L346.20,358.3 L346.32,358.8 L346.44,359.3 L346.56,358.4 L346.68,358.5 L346.80,358.7 L346.92,355.3 L347.04,359.4 L347.16,360.4 L347.28,359.0 L347.40,359.1 L347.52,356.8 L347.64,358.4 L347.76,357.9 L347.88,358.4 L348.00,360.2 L348.12,358.8 L348.24,359.7 L348.36,358.4 L348.48,360.2 L348.60,360.8 L348.72,360.5 L348.84,360.9 L348.96,363.4 L349.08,361.5 L349.20,362.1 L349.32,362.8 L349.44,364.8 L349.56,366.0 L349.68,365.3 L349.80,365.1 L349.92,365.8 L350.04,367.4 L350.16,366.6 L350.28,368.7 L350.40,369.1 L350.52,368.6 L350.64,369.5 L350.76,370.0 L350.88,371.0 L351.00,369.7 L351.12,371.7 L351.24,371.1 L351.36,371.3 L351.48,372.3 L351.60,372.6 L351.72,372.6 L351.84,372.6 L351.96,373.5 L352.08,375.5 L352.20,376.3 L352.32,375.9 L352.44,376.7 L352.56,376.1 L352.68,376.8 L352.80,377.4 L352.92,377.0 L353.04,377.5 L353.16,378.5 L353.28,378.7 L353.40,378.6 L353.52,379.8 L353.64,379.8 L353.76,380.9 L353.88,380.6 L354.00,380.7 L354.12,381.2 L354.24,381.3 L354.36,381.2 L354.48,381.6 L354.60,382.5 L354.72,382.6 L354.84,383.2 L354.96,381.5 L355.08,382.5 L355.20,382.7 L355.32,383.2 L355.44,383.0 L355.56,383.1 L355.68,384.0 L355.80,383.8 L355.92,383.1 L356.04,384.7 L356.16,384.7 L356.28,383.8 L356.40,384.8 L356.52,383.9 L356.64,385.2 L356.76,384.5 L356.88,384.2 L357.00,384.5 L357.12,384.4 L357.24,385.1 L357.36,385.1 L357.48,385.1 L357.60,384.8 L357.72,383.0 L357.84,385.4 L357.96,384.2 L358.08,385.6 L358.20,386.2 L358.32,385.7 L358.44,385.4 L358.56,385.6 L358.68,385.7 L358.80,385.5 L358.92,385.5 L359.04,385.4 L359.16,386.7 L359.28,386.0 L359.40,386.7 L359.52,386.0 L359.64,386.3 L359.76,386.2 L359.88,386.6 L360.00,386.8 L360.12,386.5 L360.24,386.0 L360.36,386.0 L360.48,387.5 L360.60,386.4 L360.72,386.4 L360.84,387.5 L360.96,387.3 L361.08,387.0 L361.20,386.5 L361.32,388.2 L361.44,387.0 L361.56,387.1 L361.68,386.7 L361.80,386.0 L361.92,386.1 L362.04,387.2 L362.16,387.2 L362.28,386.8 L362.40,386.3 L362.52,386.2 L362.64,386.8 L362.76,386.2 L362.88,387.6 L363.00,387.8 L363.12,388.8 L363.24,387.7 L363.36,386.8 L363.48,386.7 L363.60,385.2 L363.72,386.9 L363.84,387.1 L363.96,387.8 L364.08,387.6 L364.20,387.6 L364.32,387.4 L364.44,387.7 L364.56,388.2 L364.68,386.7 L364.80,387.1 L364.92,386.6 L365.04,388.3 L365.16,388.1 L365.28,387.8 L365.40,386.7 L365.52,387.5 L365.64,387.3 L365.76,387.5 L365.88,387.3 L366.00,387.8 L366.12,387.2 L366.24,388.0 L366.36,387.6 L366.48,387.3 L366.60,387.4 L366.72,387.2 L366.84,387.9 L366.96,387.3 L367.08,387.6 L367.20,387.2 L367.32,386.6 L367.44,388.0 L367.56,386.9 L367.68,387.8 L367.80,387.7 L367.92,386.5 L368.04,386.9 L368.16,387.2 L368.28,387.0 L368.40,386.8 L368.52,387.9 L368.64,387.3 L368.76,387.7 L368.88,387.2 L369.00,387.6 L369.12,387.0 L369.24,387.4 L369.36,387.8 L369.48,387.5 L369.60,387.2 L369.72,386.9 L369.84,387.6 L369.96,387.7 L370.08,387.3 L370.20,387.1 L370.32,387.8 L370.44,388.9 L370.56,387.4 L370.68,387.7 L370.80,387.8 L370.92,386.1 L371.04,387.6 L371.16,387.2 L371.28,388.4 L371.40,387.5 L371.52,387.2 L371.64,387.5 L371.76,387.7 L371.88,387.3 L372.00,387.6 L372.12,386.9 L372.24,387.6 L372.36,388.2 L372.48,388.8 L372.60,388.1 L372.72,387.9 L372.84,388.4 L372.96,388.4 L373.08,388.7 L373.20,388.4 L373.32,387.7 L373.44,388.0 L373.56,387.9 L373.68,388.0 L373.80,388.0 L373.92,387.4 L374.04,386.7 L374.16,387.5 L374.28,386.8 L374.40,388.0 L374.52,387.9 L374.64,387.0 L374.76,388.3 L374.88,388.5 L375.00,388.0 L375.12,388.9 L375.24,389.1 L375.36,387.3 L375.48,388.6 L375.60,388.3 L375.72,388.3 L375.84,388.6 L375.96,387.7 L376.08,387.8 L376.20,387.6 L376.32,387.7 L376.44,388.1 L376.56,387.3 L376.68,387.6 L376.80,388.5 L376.92,388.1 L377.04,388.4 L377.16,387.1 L377.28,387.8 L377.40,387.9 L377.52,388.3 L377.64,387.9 L377.76,388.8 L377.88,388.2 L378.00,388.3 L378.12,388.3 L378.24,388.7 L378.36,388.0 L378.48,388.9 L378.60,388.5 L378.72,388.4 L378.84,388.3 L378.96,388.6 L379.08,388.8 L379.20,388.8 L379.32,388.5 L379.44,388.7 L379.56,388.3 L379.68,388.9 L379.80,388.2 L379.92,387.0 L380.04,388.9 L380.16,388.2 L380.28,387.5 L380.40,388.0 L380.52,387.6 L380.64,389.3 L380.76,388.4 L380.88,387.2 L381.00,388.4 L381.12,387.8 L381.24,389.1 L381.36,387.4 L381.48,386.7 L381.60,388.0 L381.72,387.8 L381.84,387.7 L381.96,386.7 L382.08,388.1 L382.20,388.8 L382.32,386.8 L382.44,388.5 L382.56,387.5 L382.68,389.2 L382.80,388.1 L382.92,387.7 L383.04,388.4 L383.16,388.1 L383.28,387.4 L383.40,388.2 L383.52,387.4 L383.64,386.7 L383.76,388.9 L383.88,387.5 L384.00,387.4 L384.12,387.9 L384.24,386.8 L384.36,386.9 L384.48,387.4 L384.60,387.4 L384.72,387.7 L384.84,388.3 L384.96,387.4 L385.08,387.9 L385.20,388.0 L385.32,387.0 L385.44,387.8 L385.56,387.1 L385.68,388.2 L385.80,387.9 L385.92,387.6 L386.04,386.8 L386.16,387.6 L386.28,387.1 L386.40,387.9 L386.52,387.4 L386.64,387.0 L386.76,388.0 L386.88,387.8 L387.00,387.0 L387.12,388.0 L387.24,387.2 L387.36,387.1 L387.48,387.3 L387.60,386.8 L387.72,386.9 L387.84,387.1 L387.96,388.0 L388.08,387.9 L388.20,386.9 L388.32,387.9 L388.44,386.9 L388.56,387.1 L388.68,387.3 L388.80,386.9 L388.92,388.1 L389.04,386.7 L389.16,385.8 L389.28,387.1 L389.40,386.0 L389.52,386.0 L389.64,384.3 L389.76,386.5 L389.88,386.2 L390.00,386.1 L390.12,386.0 L390.24,386.3 L390.36,385.2 L390.48,385.6 L390.60,384.5 L390.72,384.5 L390.84,385.2 L390.96,384.7 L391.08,383.5 L391.20,384.4 L391.32,383.9 L391.44,383.4 L391.56,384.0 L391.68,383.3 L391.80,382.4 L391.92,382.5 L392.04,384.1 L392.16,381.9 L392.28,382.8 L392.40,382.9 L392.52,382.7 L392.64,381.3 L392.76,381.7 L392.88,381.8 L393.00,382.0 L393.12,380.9 L393.24,380.3 L393.36,381.5 L393.48,381.3 L393.60,380.6 L393.72,379.7 L393.84,380.1 L393.96,379.7 L394.08,379.9 L394.20,378.2 L394.32,378.8 L394.44,378.3 L394.56,377.4 L394.68,377.9 L394.80,377.4 L394.92,376.8 L395.04,376.9 L395.16,375.4 L395.28,375.9 L395.40,375.8 L395.52,375.3 L395.64,375.5 L395.76,373.6 L395.88,373.0 L396.00,373.7 L396.12,373.5 L396.24,374.2 L396.36,372.8 L396.48,371.4 L396.60,372.1 L396.72,370.6 L396.84,369.7 L396.96,372.3 L397.08,370.3 L397.20,370.2 L397.32,369.7 L397.44,370.3 L397.56,368.8 L397.68,369.2 L397.80,367.1 L397.92,366.4 L398.04,368.4 L398.16,368.1 L398.28,367.0 L398.40,366.4 L398.52,366.0 L398.64,365.0 L398.76,366.4 L398.88,365.4 L399.00,364.9 L399.12,364.5 L399.24,364.8 L399.36,364.1 L399.48,364.0 L399.60,362.0 L399.72,363.3 L399.84,364.7 L399.96,361.9 L400.08,362.1 L400.20,362.9 L400.32,362.8 L400.44,362.3 L400.56,359.9 L400.68,361.9 L400.80,360.0 L400.92,360.2 L401.04,361.6 L401.16,360.6 L401.28,361.8 L401.40,364.6 L401.52,361.8 L401.64,361.8 L401.76,360.1 L401.88,360.5 L402.00,360.2 L402.12,361.0 L402.24,360.6 L402.36,361.2 L402.48,361.8 L402.60,361.3 L402.72,361.1 L402.84,361.4 L402.96,363.3 L403.08,363.2 L403.20,364.4 L403.32,364.7 L403.44,363.9 L403.56,365.2 L403.68,364.0 L403.80,367.2 L403.92,366.9 L404.04,366.3 L404.16,366.1 L404.28,367.7 L404.40,366.6 L404.52,367.9 L404.64,369.5 L404.76,369.5 L404.88,369.6 L405.00,371.0 L405.12,370.1 L405.24,371.4 L405.36,371.2 L405.48,371.4 L405.60,372.7 L405.72,372.1 L405.84,374.5 L405.96,373.2 L406.08,375.4 L406.20,373.7 L406.32,375.3 L406.44,374.5 L406.56,374.8 L406.68,376.2 L406.80,376.9 L406.92,376.1 L407.04,378.0 L407.16,377.2 L407.28,378.1 L407.40,378.7 L407.52,379.1 L407.64,378.1 L407.76,380.5 L407.88,380.2 L408.00,379.9 L408.12,379.9 L408.24,379.8 L408.36,380.3 L408.48,381.7 L408.60,381.5 L408.72,381.2 L408.84,381.9 L408.96,383.3 L409.08,382.4 L409.20,382.5 L409.32,383.8 L409.44,383.5 L409.56,383.4 L409.68,383.2 L409.80,382.9 L409.92,383.3 L410.04,383.9 L410.16,384.2 L410.28,384.7 L410.40,385.0 L410.52,384.9 L410.64,385.0 L410.76,384.5 L410.88,383.9 L411.00,385.0 L411.12,384.9 L411.24,385.1 L411.36,385.5 L411.48,385.0 L411.60,385.2 L411.72,385.8 L411.84,386.0 L411.96,385.7 L412.08,386.4 L412.20,386.1 L412.32,385.7 L412.44,386.4 L412.56,387.5 L412.68,386.1 L412.80,387.2 L412.92,387.4 L413.04,387.5 L413.16,386.3 L413.28,388.0 L413.40,386.9 L413.52,386.8 L413.64,386.8 L413.76,387.4 L413.88,387.1 L414.00,387.0 L414.12,387.9 L414.24,386.8 L414.36,386.7 L414.48,387.8 L414.60,387.7 L414.72,388.0 L414.84,386.8 L414.96,388.1 L415.08,387.8 L415.20,388.5 L415.32,386.9 L415.44,387.8 L415.56,387.5 L415.68,386.8 L415.80,387.3 L415.92,388.4 L416.04,387.6 L416.16,387.5 L416.28,388.4 L416.40,388.5 L416.52,388.5 L416.64,387.6 L416.76,388.0 L416.88,388.6 L417.00,387.7 L417.12,387.7 L417.24,388.6 L417.36,389.0 L417.48,387.6 L417.60,386.9 L417.72,387.5 L417.84,387.8 L417.96,388.3 L418.08,388.7 L418.20,388.3 L418.32,388.1 L418.44,388.6 L418.56,388.0 L418.68,388.5 L418.80,388.2 L418.92,390.0 L419.04,389.0 L419.16,388.2 L419.28,388.1 L419.40,388.4 L419.52,387.8 L419.64,388.3 L419.76,388.3 L419.88,389.2 L420.00,388.5 L420.12,388.4 L420.24,388.1 L420.36,388.2 L420.48,388.8 L420.60,388.7 L420.72,389.5 L420.84,388.5 L420.96,389.4 L421.08,389.0 L421.20,388.9 L421.32,387.9 L421.44,388.3 L421.56,389.3 L421.68,389.7 L421.80,389.1 L421.92,389.4 L422.04,388.8 L422.16,388.8 L422.28,388.7 L422.40,389.6 L422.52,389.3 L422.64,389.0 L422.76,388.9 L422.88,389.4 L423.00,389.3 L423.12,388.7 L423.24,390.1 L423.36,389.3 L423.48,389.2 L423.60,390.0 L423.72,389.8 L423.84,389.3 L423.96,389.6 L424.08,388.8 L424.20,389.0 L424.32,388.2 L424.44,390.0 L424.56,388.5 L424.68,389.8 L424.80,389.1 L424.92,389.0 L425.04,389.4 L425.16,389.7 L425.28,389.9 L425.40,390.5 L425.52,389.8 L425.64,390.1 L425.76,389.3 L425.88,390.0 L426.00,389.8 L426.12,389.5 L426.24,389.7 L426.36,389.7 L426.48,389.8 L426.60,390.0 L426.72,389.5 L426.84,389.4 L426.96,390.2 L427.08,388.9 L427.20,389.5 L427.32,390.6 L427.44,388.4 L427.56,389.5 L427.68,390.2 L427.80,389.0 L427.92,391.1 L428.04,388.5 L428.16,390.5 L428.28,390.6 L428.40,390.3 L428.52,389.7 L428.64,390.0 L428.76,389.3 L428.88,390.2 L429.00,389.2 L429.12,389.6 L429.24,390.2 L429.36,389.2 L429.48,389.5 L429.60,389.8 L429.72,389.0 L429.84,390.3 L429.96,389.9 L430.08,388.9 L430.20,389.6 L430.32,389.3 L430.44,389.3 L430.56,389.7 L430.68,389.3 L430.80,390.1 L430.92,389.2 L431.04,390.1 L431.16,389.5 L431.28,390.0 L431.40,389.3 L431.52,389.3 L431.64,388.9 L431.76,389.8 L431.88,390.0 L432.00,390.6 L432.12,390.1 L432.24,389.6 L432.36,389.3 L432.48,389.6 L432.60,389.4 L432.72,390.2 L432.84,389.9 L432.96,389.0 L433.08,389.0 L433.20,390.1 L433.32,389.5 L433.44,389.2 L433.56,389.9 L433.68,389.1 L433.80,389.2 L433.92,389.1 L434.04,388.3 L434.16,389.7 L434.28,388.7 L434.40,389.0 L434.52,388.9 L434.64,389.7 L434.76,389.2 L434.88,389.3 L435.00,388.4 L435.12,389.2 L435.24,388.5 L435.36,389.4 L435.48,389.4 L435.60,389.2 L435.72,390.3 L435.84,389.5 L435.96,389.5 L436.08,389.3 L436.20,389.1 L436.32,389.7 L436.44,389.7 L436.56,388.5 L436.68,389.7 L436.80,389.4 L436.92,389.6 L437.04,389.3 L437.16,388.4 L437.28,388.5 L437.40,390.0 L437.52,389.2 L437.64,388.3 L437.76,389.2 L437.88,388.8 L438.00,388.0 L438.12,387.8 L438.24,388.1 L438.36,389.1 L438.48,388.9 L438.60,388.8 L438.72,389.1 L438.84,389.2 L438.96,387.8 L439.08,388.7 L439.20,388.4 L439.32,388.1 L439.44,388.5 L439.56,388.7 L439.68,388.5 L439.80,387.9 L439.92,388.3 L440.04,389.6 L440.16,387.9 L440.28,387.5 L440.40,388.5 L440.52,388.7 L440.64,388.5 L440.76,387.6 L440.88,388.7 L441.00,387.7 L441.12,387.4 L441.24,387.6 L441.36,387.9 L441.48,388.2 L441.60,388.1 L441.72,387.7 L441.84,388.2 L441.96,387.6 L442.08,388.0 L442.20,386.6 L442.32,386.4 L442.44,387.7 L442.56,386.3 L442.68,386.9 L442.80,386.9 L442.92,386.6 L443.04,386.5 L443.16,387.4 L443.28,385.0 L443.40,386.9 L443.52,387.6 L443.64,386.2 L443.76,386.0 L443.88,386.3 L444.00,386.9 L444.12,385.0 L444.24,385.6 L444.36,385.3 L444.48,385.6 L444.60,385.3 L444.72,385.4 L444.84,384.6 L444.96,384.8 L445.08,384.2 L445.20,384.1 L445.32,384.3 L445.44,384.1 L445.56,383.4 L445.68,384.9 L445.80,383.7 L445.92,382.8 L446.04,384.2 L446.16,382.9 L446.28,383.5 L446.40,383.0 L446.52,383.0 L446.64,382.8 L446.76,382.2 L446.88,382.4 L447.00,383.6 L447.12,380.6 L447.24,382.0 L447.36,382.2 L447.48,381.0 L447.60,380.7 L447.72,383.0 L447.84,381.1 L447.96,382.8 L448.08,381.6 L448.20,381.2 L448.32,381.4 L448.44,381.4 L448.56,381.8 L448.68,381.2 L448.80,380.9 L448.92,380.9 L449.04,381.7 L449.16,381.2 L449.28,379.8 L449.40,380.1 L449.52,380.7 L449.64,380.0 L449.76,380.1 L449.88,379.7 L450.00,380.1 L450.12,380.6 L450.24,381.1 L450.36,380.3 L450.48,381.9 L450.60,380.2 L450.72,382.7 L450.84,381.0 L450.96,380.6 L451.08,379.8 L451.20,378.0 L451.32,380.1 L451.44,380.4 L451.56,381.8 L451.68,379.3 L451.80,381.8 L451.92,380.2 L452.04,381.0 L452.16,378.6 L452.28,380.7 L452.40,380.4 L452.52,381.2 L452.64,380.9 L452.76,380.0 L452.88,381.6 L453.00,381.5 L453.12,381.5 L453.24,381.9 L453.36,382.0 L453.48,381.3 L453.60,380.4 L453.72,380.5 L453.84,382.5 L453.96,382.2 L454.08,381.9 L454.20,381.7 L454.32,382.1 L454.44,382.3 L454.56,382.2 L454.68,382.1 L454.80,384.1 L454.92,383.0 L455.04,382.7 L455.16,382.4 L455.28,382.9 L455.40,384.0 L455.52,384.2 L455.64,383.8 L455.76,384.1 L455.88,384.0 L456.00,383.7 L456.12,385.3 L456.24,384.9 L456.36,386.3 L456.48,384.5 L456.60,385.0 L456.72,385.7 L456.84,385.2 L456.96,384.6 L457.08,385.0 L457.20,385.7 L457.32,386.0 L457.44,385.9 L457.56,386.6 L457.68,386.7 L457.80,386.5 L457.92,386.4 L458.04,386.4 L458.16,387.0 L458.28,387.3 L458.40,386.9 L458.52,387.3 L458.64,387.0 L458.76,386.5 L458.88,386.8 L459.00,387.9 L459.12,387.8 L459.24,388.6 L459.36,387.8 L459.48,388.4 L459.60,388.7 L459.72,388.6 L459.84,387.8 L459.96,388.1 L460.08,388.4 L460.20,387.9 L460.32,388.7 L460.44,389.1 L460.56,388.4 L460.68,389.7 L460.80,388.6 L460.92,388.7 L461.04,388.7 L461.16,388.5 L461.28,389.1 L461.40,389.0 L461.52,389.8 L461.64,389.3 L461.76,389.3 L461.88,388.9 L462.00,388.3 L462.12,389.0 L462.24,388.7 L462.36,389.6 L462.48,389.1 L462.60,390.0 L462.72,389.5 L462.84,389.6 L462.96,389.3 L463.08,389.3 L463.20,389.6 L463.32,389.7 L463.44,388.9 L463.56,389.5 L463.68,390.6 L463.80,389.3 L463.92,389.2 L464.04,389.0 L464.16,388.6 L464.28,390.0 L464.40,389.4 L464.52,389.5 L464.64,390.3 L464.76,390.7 L464.88,389.0 L465.00,390.0 L465.12,389.8 L465.24,389.7 L465.36,389.7 L465.48,389.5 L465.60,390.3 L465.72,389.8 L465.84,389.7 L465.96,390.2 L466.08,390.0 L466.20,389.8 L466.32,389.8 L466.44,390.5 L466.56,389.9 L466.68,389.6 L466.80,389.2 L466.92,389.5 L467.04,389.2 L467.16,389.7 L467.28,389.8 L467.40,388.7 L467.52,389.7 L467.64,390.1 L467.76,389.8 L467.88,389.3 L468.00,390.4 L468.12,389.4 L468.24,389.2 L468.36,389.3 L468.48,389.8 L468.60,390.3 L468.72,390.4 L468.84,390.0 L468.96,389.3 L469.08,389.6 L469.20,389.5 L469.32,389.8 L469.44,389.1 L469.56,390.0 L469.68,390.3 L469.80,389.9 L469.92,390.2 L470.04,389.6 L470.16,389.3 L470.28,389.7 L470.40,390.6 L470.52,390.6 L470.64,389.9 L470.76,390.7 L470.88,390.0 L471.00,390.9 L471.12,390.4 L471.24,389.9 L471.36,390.6 L471.48,389.8 L471.60,389.7 L471.72,389.5 L471.84,390.3 L471.96,390.2 L472.08,390.2 L472.20,390.1 L472.32,391.0 L472.44,390.1 L472.56,389.9 L472.68,390.9 L472.80,391.0 L472.92,390.5 L473.04,389.5 L473.16,390.0 L473.28,390.6 L473.40,390.3 L473.52,391.1 L473.64,389.7 L473.76,390.7 L473.88,390.0 L474.00,391.0 L474.12,390.3 L474.24,390.8 L474.36,390.0 L474.48,389.6 L474.60,389.8 L474.72,390.0 L474.84,389.8 L474.96,390.9 L475.08,390.9 L475.20,390.4 L475.32,389.8 L475.44,390.2 L475.56,389.9 L475.68,391.0 L475.80,390.4 L475.92,390.5 L476.04,390.0 L476.16,389.3 L476.28,389.8 L476.40,389.7 L476.52,390.4 L476.64,390.2 L476.76,389.8 L476.88,390.0 L477.00,390.9 L477.12,389.7 L477.24,389.7 L477.36,390.0 L477.48,389.8 L477.60,389.9 L477.72,390.4 L477.84,390.9 L477.96,389.2 L478.08,390.1 L478.20,390.1 L478.32,390.0 L478.44,389.9 L478.56,389.9 L478.68,390.5 L478.80,389.8 L478.92,389.9 L479.04,390.0 L479.16,390.0 L479.28,389.9 L479.40,390.4 L479.52,389.9 L479.64,390.0 L479.76,389.8 L479.88,389.4 L480.00,389.4 L480.12,389.3 L480.24,389.9 L480.36,389.4 L480.48,389.2 L480.60,389.8 L480.72,390.0 L480.84,388.8 L480.96,390.5 L481.08,389.7 L481.20,389.6 L481.32,390.1 L481.44,389.6 L481.56,389.2 L481.68,390.6 L481.80,389.0 L481.92,389.4 L482.04,389.9 L482.16,388.9 L482.28,389.3 L482.40,389.6 L482.52,390.5 L482.64,388.9 L482.76,389.3 L482.88,389.6 L483.00,389.3 L483.12,388.6 L483.24,389.4 L483.36,389.2 L483.48,389.4 L483.60,389.7 L483.72,389.6 L483.84,389.3 L483.96,389.2 L484.08,388.5 L484.20,388.9 L484.32,389.1 L484.44,388.7 L484.56,389.0 L484.68,388.5 L484.80,389.7 L484.92,389.9 L485.04,388.6 L485.16,389.0 L485.28,388.6 L485.40,389.3 L485.52,388.9 L485.64,388.6 L485.76,388.4 L485.88,388.5 L486.00,387.9 L486.12,388.7 L486.24,387.9 L486.36,388.4 L486.48,388.1 L486.60,388.5 L486.72,387.9 L486.84,388.3 L486.96,387.2 L487.08,387.9 L487.20,387.4 L487.32,387.5 L487.44,387.4 L487.56,387.7 L487.68,386.1 L487.80,387.2 L487.92,386.1 L488.04,387.4 L488.16,385.5 L488.28,385.9 L488.40,385.4 L488.52,387.0 L488.64,385.2 L488.76,385.8 L488.88,385.3 L489.00,384.4 L489.12,385.0 L489.24,385.4 L489.36,384.7 L489.48,385.2 L489.60,384.2 L489.72,384.2 L489.84,383.8 L489.96,384.1 L490.08,384.8 L490.20,383.7 L490.32,383.5 L490.44,382.8 L490.56,382.5 L490.68,383.7 L490.80,381.9 L490.92,381.9 L491.04,382.2 L491.16,381.8 L491.28,383.1 L491.40,380.2 L491.52,381.7 L491.64,381.8 L491.76,380.4 L491.88,380.5 L492.00,381.0 L492.12,381.6 L492.24,379.7 L492.36,379.1 L492.48,380.7 L492.60,380.9 L492.72,379.4 L492.84,377.9 L492.96,380.4 L493.08,379.1 L493.20,379.9 L493.32,378.9 L493.44,378.5 L493.56,378.3 L493.68,379.7 L493.80,379.6 L493.92,376.7 L494.04,377.5 L494.16,379.5 L494.28,377.7 L494.40,376.8 L494.52,377.8 L494.64,377.6 L494.76,377.5 L494.88,377.1 L495.00,377.1 L495.12,376.9 L495.24,377.4 L495.36,376.4 L495.48,376.8 L495.60,376.8 L495.72,378.0 L495.84,377.2 L495.96,376.7 L496.08,377.2 L496.20,377.1 L496.32,377.7 L496.44,377.2 L496.56,378.3 L496.68,378.0 L496.80,376.9 L496.92,376.7 L497.04,377.8 L497.16,377.6 L497.28,377.2 L497.40,376.2 L497.52,376.1 L497.64,377.9 L497.76,378.3 L497.88,378.5 L498.00,377.0 L498.12,378.9 L498.24,377.8 L498.36,378.6 L498.48,378.8 L498.60,378.1 L498.72,378.4 L498.84,377.5 L498.96,378.5 L499.08,378.1 L499.20,379.8 L499.32,379.8 L499.44,380.6 L499.56,380.4 L499.68,380.0 L499.80,380.8 L499.92,380.6 L500.04,381.4 L500.16,381.5 L500.28,380.9 L500.40,381.7 L500.52,381.9 L500.64,381.9 L500.76,382.9 L500.88,383.6 L501.00,382.5 L501.12,382.6 L501.24,381.7 L501.36,383.2 L501.48,383.2 L501.60,382.3 L501.72,384.0 L501.84,384.3 L501.96,383.7 L502.08,384.1 L502.20,384.0 L502.32,385.1 L502.44,384.0 L502.56,384.9 L502.68,386.3 L502.80,385.4 L502.92,385.8 L503.04,385.7 L503.16,385.3 L503.28,386.1 L503.40,386.4 L503.52,385.8 L503.64,386.7 L503.76,387.3 L503.88,387.4 L504.00,386.1 L504.12,386.5 L504.24,386.3 L504.36,387.9 L504.48,387.7 L504.60,387.9 L504.72,387.2 L504.84,387.2 L504.96,387.9 L505.08,388.0 L505.20,387.7 L505.32,388.3 L505.44,388.6 L505.56,388.5 L505.68,388.0 L505.80,387.6 L505.92,388.6 L506.04,388.9 L506.16,388.7 L506.28,388.7 L506.40,388.7 L506.52,389.4 L506.64,389.1 L506.76,389.2 L506.88,388.8 L507.00,389.0 L507.12,389.4 L507.24,388.9 L507.36,388.8 L507.48,389.3 L507.60,390.1 L507.72,389.6 L507.84,390.3 L507.96,389.6 L508.08,389.5 L508.20,389.0 L508.32,389.5 L508.44,390.4 L508.56,390.0 L508.68,390.2 L508.80,390.2 L508.92,389.9 L509.04,389.9 L509.16,390.0 L509.28,390.3 L509.40,390.3 L509.52,390.3 L509.64,390.2 L509.76,389.8 L509.88,390.1 L510.00,389.8 L510.12,390.7 L510.24,389.3 L510.36,390.2 L510.48,391.4 L510.60,390.2 L510.72,389.9 L510.84,390.4 L510.96,391.0 L511.08,390.4 L511.20,390.7 L511.32,390.5 L511.44,390.3 L511.56,391.9 L511.68,390.6 L511.80,390.3 L511.92,390.4 L512.04,390.8 L512.16,390.8 L512.28,391.0 L512.40,390.7 L512.52,390.0 L512.64,390.9 L512.76,390.6 L512.88,390.6 L513.00,390.1 L513.12,390.5 L513.24,390.4 L513.36,390.8 L513.48,390.2 L513.60,390.8 L513.72,390.9 L513.84,390.4 L513.96,390.6 L514.08,390.5 L514.20,391.3 L514.32,389.8 L514.44,390.8 L514.56,390.2 L514.68,390.8 L514.80,391.3 L514.92,390.7 L515.04,391.1 L515.16,390.7 L515.28,391.9 L515.40,391.5 L515.52,391.6 L515.64,390.5 L515.76,390.6 L515.88,391.6 L516.00,391.1 L516.12,391.0 L516.24,391.3 L516.36,390.6 L516.48,391.5 L516.60,391.2 L516.72,391.4 L516.84,390.9 L516.96,391.4 L517.08,390.9 L517.20,391.6 L517.32,391.7 L517.44,391.6 L517.56,391.4 L517.68,391.5 L517.80,390.1 L517.92,391.6 L518.04,391.1 L518.16,391.3 L518.28,391.1 L518.40,390.6 L518.52,391.0 L518.64,391.5 L518.76,391.8 L518.88,391.0 L519.00,390.9 L519.12,391.8 L519.24,390.9 L519.36,392.1 L519.48,391.3 L519.60,390.9 L519.72,391.7 L519.84,392.0 L519.96,390.7 L520.08,391.9 L520.20,391.2 L520.32,391.9 L520.44,391.2 L520.56,390.7 L520.68,391.5 L520.80,391.7 L520.92,392.2 L521.04,392.1 L521.16,391.7 L521.28,391.3 L521.40,391.2 L521.52,391.3 L521.64,391.1 L521.76,391.3 L521.88,390.4 L522.00,391.5 L522.12,391.4 L522.24,392.5 L522.36,391.8 L522.48,391.3 L522.60,391.7 L522.72,391.0 L522.84,391.2 L522.96,390.7 L523.08,392.1 L523.20,391.7 L523.32,391.0 L523.44,391.5 L523.56,391.9 L523.68,391.7 L523.80,391.7 L523.92,391.1 L524.04,391.2 L524.16,391.5 L524.28,391.9 L524.40,391.2 L524.52,391.0 L524.64,392.0 L524.76,391.1 L524.88,391.9 L525.00,391.6 L525.12,391.9 L525.24,392.2 L525.36,391.8 L525.48,391.8 L525.60,391.1 L525.72,391.2 L525.84,391.8 L525.96,392.1 L526.08,392.1 L526.20,392.4 L526.32,391.6 L526.44,391.6 L526.56,391.9 L526.68,391.5 L526.80,391.5 L526.92,391.0 L527.04,391.9 L527.16,391.0 L527.28,391.7 L527.40,390.9 L527.52,391.9 L527.64,391.0 L527.76,391.8 L527.88,390.8 L528.00,391.2 L528.12,391.9 L528.24,391.1 L528.36,391.4 L528.48,391.2 L528.60,390.4 L528.72,391.5 L528.84,391.5 L528.96,390.9 L529.08,391.6 L529.20,391.0 L529.32,390.9 L529.44,391.3 L529.56,391.0 L529.68,392.2 L529.80,390.7 L529.92,391.6 L530.04,391.7 L530.16,390.5 L530.28,390.6 L530.40,391.5 L530.52,391.1 L530.64,391.5 L530.76,391.8 L530.88,391.2 L531.00,390.9 L531.12,390.2 L531.24,391.4 L531.36,391.0 L531.48,391.5 L531.60,391.5 L531.72,390.8 L531.84,392.1 L531.96,391.8 L532.08,391.7 L532.20,390.9 L532.32,391.3 L532.44,391.2 L532.56,391.3 L532.68,391.0 L532.80,391.6 L532.92,391.6 L533.04,391.6 L533.16,391.3 L533.28,392.0 L533.40,391.6 L533.52,390.4 L533.64,391.3 L533.76,391.5 L533.88,392.0 L534.00,391.5 L534.12,391.5 L534.24,391.3 L534.36,391.9 L534.48,391.4 L534.60,391.4 L534.72,391.3 L534.84,391.9 L534.96,391.4 L535.08,391.0 L535.20,391.9 L535.32,391.4 L535.44,391.8 L535.56,391.8 L535.68,392.2 L535.80,392.1 L535.92,391.4 L536.04,391.6 L536.16,391.2 L536.28,392.4 L536.40,391.9 L536.52,392.2 L536.64,391.6 L536.76,390.9 L536.88,392.3 L537.00,391.7 L537.12,391.7 L537.24,391.7 L537.36,392.0 L537.48,391.9 L537.60,391.0 L537.72,392.1 L537.84,391.5 L537.96,391.5 L538.08,392.4 L538.20,392.1 L538.32,391.5 L538.44,390.9 L538.56,391.7 L538.68,391.9 L538.80,391.6 L538.92,391.2 L539.04,391.3 L539.16,391.2 L539.28,391.7 L539.40,392.0 L539.52,392.1 L539.64,391.3 L539.76,391.7 L539.88,391.8 L540.00,391.4 L540.12,391.5 L540.24,392.5 L540.36,391.7 L540.48,391.9 L540.60,391.4 L540.72,391.6 L540.84,390.9 L540.96,391.5 L541.08,392.0 L541.20,392.4 L541.32,392.0 L541.44,391.8 L541.56,391.5 L541.68,391.3 L541.80,391.4 L541.92,391.8 L542.04,391.2 L542.16,391.9 L542.28,391.1 L542.40,390.8 L542.52,391.1 L542.64,390.8 L542.76,391.0 L542.88,392.0 L543.00,391.4 L543.12,391.6 L543.24,392.0 L543.36,392.0 L543.48,391.3 L543.60,392.1 L543.72,391.7 L543.84,391.6 L543.96,391.7 L544.08,391.0 L544.20,391.3 L544.32,391.5 L544.44,391.8 L544.56,391.5 L544.68,391.6 L544.80,392.0 L544.92,392.2 L545.04,392.0 L545.16,392.2 L545.28,391.5 L545.40,391.6 L545.52,391.8 L545.64,391.6 L545.76,391.5 L545.88,392.4 L546.00,391.7 L546.12,391.4 L546.24,392.0 L546.36,392.5 L546.48,391.8 L546.60,392.3 L546.72,391.7 L546.84,391.6 L546.96,391.6 L547.08,391.8 L547.20,392.6 L547.32,391.4 L547.44,392.5 L547.56,391.5 L547.68,391.8 L547.80,392.2 L547.92,392.1 L548.04,392.0 L548.16,391.3 L548.28,392.0 L548.40,391.5 L548.52,392.9 L548.64,391.8 L548.76,392.0 L548.88,391.5 L549.00,391.7 L549.12,391.5 L549.24,392.3 L549.36,391.8 L549.48,392.2 L549.60,391.7 L549.72,391.8 L549.84,392.5 L549.96,391.6 L550.08,391.3 L550.20,392.2 L550.32,391.6 L550.44,391.9 L550.56,392.4 L550.68,391.8 L550.80,392.4 L550.92,391.8 L551.04,392.6 L551.16,392.6 L551.28,392.0 L551.40,392.1 L551.52,391.9 L551.64,392.2 L551.76,392.6 L551.88,391.7 L552.00,392.6 L552.12,391.8 L552.24,392.0 L552.36,391.6 L552.48,393.0 L552.60,392.3 L552.72,392.4 L552.84,392.1 L552.96,392.7 L553.08,391.7 L553.20,392.4 L553.32,393.2 L553.44,392.3 L553.56,392.5 L553.68,392.7 L553.80,392.2 L553.92,392.5 L554.04,392.8 L554.16,392.6 L554.28,392.7 L554.40,392.4 L554.52,392.7 L554.64,392.6 L554.76,393.1 L554.88,392.8 L555.00,392.5 L555.12,391.7 L555.24,392.8 L555.36,392.8 L555.48,392.3 L555.60,391.9 L555.72,392.2 L555.84,392.9 L555.96,392.2 L556.08,392.4 L556.20,392.6 L556.32,393.0 L556.44,392.6 L556.56,392.5 L556.68,392.4 L556.80,393.1 L556.92,392.9 L557.04,392.5 L557.16,392.1 L557.28,392.3 L557.40,392.7 L557.52,392.3 L557.64,392.8 L557.76,392.7 L557.88,392.6 L558.00,392.7 L558.12,392.7 L558.24,392.2 L558.36,392.4 L558.48,393.3 L558.60,392.1 L558.72,392.4 L558.84,392.9 L558.96,392.5 L559.08,392.3 L559.20,392.1 L559.32,392.7 L559.44,392.9 L559.56,393.0 L559.68,392.6 L559.80,392.9 L559.92,392.2 L560.04,392.6 L560.16,392.3 L560.28,392.6 L560.40,392.8 L560.52,393.0 L560.64,392.3 L560.76,393.0 L560.88,392.5 L561.00,392.3 L561.12,392.6 L561.24,392.1 L561.36,392.6 L561.48,392.7 L561.60,392.6 L561.72,392.8 L561.84,392.6 L561.96,392.7 L562.08,392.2 L562.20,392.7 L562.32,392.4 L562.44,392.5 L562.56,392.7 L562.68,392.8 L562.80,392.2 L562.92,392.2 L563.04,392.6 L563.16,392.9 L563.28,392.8 L563.40,393.0 L563.52,393.2 L563.64,392.9 L563.76,392.7 L563.88,392.4 L564.00,392.4 L564.12,392.6 L564.24,392.8 L564.36,392.8 L564.48,392.7 L564.60,392.6 L564.72,392.9 L564.84,392.7 L564.96,392.7 L565.08,392.7 L565.20,392.4 L565.32,392.2 L565.44,392.7 L565.56,392.7 L565.68,392.4 L565.80,392.3 L565.92,393.2 L566.04,392.2 L566.16,392.3 L566.28,392.4 L566.40,391.9 L566.52,392.3 L566.64,392.9 L566.76,392.6 L566.88,392.4 L567.00,392.4 L567.12,392.2 L567.24,392.4 L567.36,392.0 L567.48,391.9 L567.60,392.0 L567.72,392.3 L567.84,392.1 L567.96,392.2 L568.08,391.1 L568.20,392.3 L568.32,392.7 L568.44,392.3 L568.56,391.6 L568.68,391.4 L568.80,391.8 L568.92,391.3 L569.04,391.9 L569.16,391.4 L569.28,392.0 L569.40,392.1 L569.52,390.8 L569.64,391.6 L569.76,391.2 L569.88,390.9 L570.00,391.2 L570.12,391.4 L570.24,391.8 L570.36,390.8 L570.48,391.8 L570.60,392.2 L570.72,391.6 L570.84,391.6 L570.96,391.3 L571.08,390.8 L571.20,391.5 L571.32,391.4 L571.44,391.6 L571.56,392.3 L571.68,391.5 L571.80,391.4 L571.92,391.8 L572.04,390.6 L572.16,390.7 L572.28,391.0 L572.40,390.9 L572.52,391.4 L572.64,391.0 L572.76,391.8 L572.88,391.7 L573.00,391.4 L573.12,390.9 L573.24,391.3 L573.36,391.4 L573.48,390.6 L573.60,391.2 L573.72,391.3 L573.84,391.1 L573.96,391.6 L574.08,391.5 L574.20,390.6 L574.32,391.0 L574.44,390.5 L574.56,391.1 L574.68,390.5 L574.80,391.2 L574.92,391.0 L575.04,391.2 L575.16,390.7 L575.28,390.1 L575.40,391.5 L575.52,390.7 L575.64,391.3 L575.76,390.9 L575.88,391.0 L576.00,391.5 L576.12,390.8 L576.24,391.3 L576.36,390.0 L576.48,391.0 L576.60,390.5 L576.72,390.5 L576.84,390.6 L576.96,390.7 L577.08,391.3 L577.20,389.7 L577.32,390.6 L577.44,390.2 L577.56,391.1 L577.68,390.3 L577.80,390.7 L577.92,390.3 L578.04,390.8 L578.16,391.0 L578.28,390.3 L578.40,390.5 L578.52,389.8 L578.64,390.6 L578.76,390.9 L578.88,390.2 L579.00,391.0 L579.12,389.6 L579.24,389.7 L579.36,389.9 L579.48,390.3 L579.60,390.5 L579.72,390.5 L579.84,390.5 L579.96,390.9 L580.08,390.4 L580.20,390.0 L580.32,390.1 L580.44,391.6 L580.56,389.6 L580.68,390.6 L580.80,391.3 L580.92,390.9 L581.04,390.4 L581.16,390.8 L581.28,391.2 L581.40,391.3 L581.52,390.5 L581.64,391.2 L581.76,391.0 L581.88,391.4 L582.00,391.5 L582.12,390.8 L582.24,390.4 L582.36,391.2 L582.48,391.8 L582.60,391.3 L582.72,391.2 L582.84,392.1 L582.96,390.7 L583.08,391.5 L583.20,391.0 L583.32,391.2 L583.44,391.3 L583.56,391.9 L583.68,390.9 L583.80,391.1 L583.92,390.7 L584.04,391.6 L584.16,391.2 L584.28,391.6 L584.40,391.1 L584.52,391.4 L584.64,392.0 L584.76,391.5 L584.88,391.8 L585.00,391.8 L585.12,391.5 L585.24,391.1 L585.36,392.1 L585.48,391.8 L585.60,392.1 L585.72,391.0 L585.84,391.2 L585.96,391.0 L586.08,391.5 L586.20,392.3 L586.32,392.1 L586.44,391.9 L586.56,392.0 L586.68,392.3 L586.80,391.9 L586.92,392.2 L587.04,392.1 L587.16,391.3 L587.28,392.0 L587.40,392.6 L587.52,392.0 L587.64,392.2 L587.76,392.0 L587.88,392.1 L588.00,392.7 L588.12,392.2 L588.24,392.0 L588.36,391.3 L588.48,392.2 L588.60,391.8 L588.72,391.9 L588.84,392.8 L588.96,392.8 L589.08,391.9 L589.20,392.9 L589.32,392.8 L589.44,392.4 L589.56,393.0 L589.68,392.2 L589.80,392.4 L589.92,392.3 L590.04,392.4 L590.16,393.1 L590.28,392.4 L590.40,392.5 L590.52,392.6 L590.64,393.0 L590.76,392.9 L590.88,393.3 L591.00,392.8 L591.12,392.6 L591.24,392.9 L591.36,393.1 L591.48,392.8 L591.60,393.2 L591.72,393.7 L591.84,392.9 L591.96,393.1 L592.08,393.6 L592.20,392.9 L592.32,392.9 L592.44,392.8 L592.56,393.3 L592.68,393.3 L592.80,393.1 L592.92,393.2 L593.04,393.6 L593.16,393.4 L593.28,392.7 L593.40,393.2 L593.52,393.2 L593.64,393.4 L593.76,393.1 L593.88,392.9 L594.00,393.0 L594.12,392.6 L594.24,393.1 L594.36,393.0 L594.48,393.3 L594.60,392.8 L594.72,393.0 L594.84,392.8 L594.96,392.8 L595.08,393.3 L595.20,393.0 L595.32,393.3 L595.44,392.8 L595.56,393.1 L595.68,392.6 L595.80,393.0 L595.92,393.0 L596.04,393.3 L596.16,393.2 L596.28,393.1 L596.40,393.4 L596.52,393.2 L596.64,393.3 L596.76,393.4 L596.88,393.1 L597.00,393.0 L597.12,393.2 L597.24,393.0 L597.36,393.2 L597.48,393.5 L597.60,393.4 L597.72,393.0 L597.84,392.8 L597.96,393.1 L598.08,393.1 L598.20,393.5 L598.32,393.0 L598.44,393.1 L598.56,393.4 L598.68,393.0 L598.80,393.1 L598.92,393.7 L599.04,393.7 L599.16,393.4 L599.28,393.3 L599.40,392.9 L599.52,393.4 L599.64,393.3 L599.76,393.3 L599.88,393.1 L600.00,393.3 L600.12,393.2 L600.24,393.4 L600.36,393.7 L600.48,393.4 L600.60,392.8 L600.72,393.0 L600.84,392.8 L600.96,393.0 L601.08,393.4 L601.20,393.4 L601.32,393.1 L601.44,393.3 L601.56,393.0 L601.68,392.8 L601.80,392.8 L601.92,393.0 L602.04,393.7 L602.16,392.8 L602.28,393.6 L602.40,393.6 L602.52,393.2 L602.64,393.2 L602.76,393.0 L602.88,393.2 L603.00,393.4 L603.12,393.2 L603.24,393.5 L603.36,393.5 L603.48,393.3 L603.60,393.3 L603.72,393.1 L603.84,393.3 L603.96,392.8 L604.08,393.3 L604.20,393.2 L604.32,392.9 L604.44,393.8 L604.56,392.8 L604.68,392.9 L604.80,393.2 L604.92,392.5 L605.04,392.9 L605.16,392.7 L605.28,392.8 L605.40,393.1 L605.52,393.2 L605.64,393.4 L605.76,393.4 L605.88,393.5 L606.00,393.3 L606.12,393.0 L606.24,393.4 L606.36,393.0 L606.48,392.9 L606.60,393.6 L606.72,393.3 L606.84,393.2 L606.96,393.3 L607.08,393.4 L607.20,392.7 L607.32,393.1 L607.44,392.7 L607.56,393.1 L607.68,392.9 L607.80,393.5 L607.92,393.2 L608.04,392.8 L608.16,393.1 L608.28,392.7 L608.40,393.1 L608.52,393.2 L608.64,393.1 L608.76,392.5 L608.88,393.0 L609.00,393.2 L609.12,393.2 L609.24,393.4 L609.36,392.7 L609.48,393.2 L609.60,392.9 L609.72,393.1 L609.84,393.2 L609.96,393.3 L610.08,392.9 L610.20,393.2 L610.32,392.8 L610.44,392.7 L610.56,393.3 L610.68,393.1 L610.80,392.6 L610.92,392.9 L611.04,393.1 L611.16,393.6 L611.28,393.5 L611.40,393.4 L611.52,392.6 L611.64,393.1 L611.76,393.3 L611.88,393.3 L612.00,393.3 L612.12,393.1 L612.24,393.7 L612.36,393.7 L612.48,393.2 L612.60,392.9 L612.72,393.9 L612.84,393.1 L612.96,393.6 L613.08,393.8 L613.20,393.0 L613.32,393.4 L613.44,393.2 L613.56,393.4 L613.68,393.4 L613.80,393.9 L613.92,393.5 L614.04,393.3 L614.16,393.6 L614.28,393.2 L614.40,393.2 L614.52,394.0 L614.64,393.1 L614.76,393.2 L614.88,393.3 L615.00,393.0 L615.12,392.7 L615.24,393.6 L615.36,393.1 L615.48,393.2 L615.60,393.2 L615.72,393.0 L615.84,393.0 L615.96,393.4 L616.08,394.0 L616.20,393.5 L616.32,393.5 L616.44,392.9 L616.56,393.3 L616.68,392.9 L616.80,393.5 L616.92,393.2 L617.04,393.3 L617.16,393.3 L617.28,393.1 L617.40,392.8 L617.52,393.4 L617.64,392.8 L617.76,392.9 L617.88,393.2 L618.00,393.0 L618.12,393.3 L618.24,393.5 L618.36,393.3 L618.48,393.3 L618.60,393.2 L618.72,393.5 L618.84,392.7 L618.96,393.3 L619.08,392.9 L619.20,392.8 L619.32,393.2 L619.44,393.1 L619.56,393.4 L619.68,393.5 L619.80,392.5 L619.92,393.2 L620.04,393.7 L620.16,393.4 L620.28,393.6 L620.40,393.2 L620.52,392.8 L620.64,392.8 L620.76,393.4 L620.88,393.5 L621.00,393.0 L621.12,393.1 L621.24,393.3 L621.36,392.7 L621.48,393.1 L621.60,393.7 L621.72,393.8 L621.84,393.2 L621.96,393.7 L622.08,393.0 L622.20,393.0 L622.32,392.5 L622.44,393.5 L622.56,393.1 L622.68,393.9 L622.80,393.3 L622.92,393.3 L623.04,392.7 L623.16,393.6 L623.28,393.1 L623.40,393.2 L623.52,392.6 L623.64,393.5 L623.76,393.5 L623.88,393.1 L624.00,393.3 L624.12,393.4 L624.24,393.5 L624.36,393.3 L624.48,393.8 L624.60,393.2 L624.72,393.1 L624.84,393.1 L624.96,392.5 L625.08,393.0 L625.20,393.6 L625.32,393.4 L625.44,393.1 L625.56,393.4 L625.68,392.7 L625.80,393.2 L625.92,393.5 L626.04,393.5 L626.16,393.1 L626.28,393.6 L626.40,393.9 L626.52,393.2 L626.64,393.6 L626.76,392.9 L626.88,392.8 L627.00,393.5 L627.12,393.4 L627.24,393.4 L627.36,393.2 L627.48,393.3 L627.60,393.6 L627.72,393.9 L627.84,393.3 L627.96,392.9 L628.08,393.8 L628.20,393.6 L628.32,393.6 L628.44,393.5 L628.56,394.1 L628.68,393.4 L628.80,393.6 L628.92,392.9 L629.04,393.3 L629.16,393.2 L629.28,393.4 L629.40,393.5 L629.52,393.2 L629.64,393.9 L629.76,393.1 L629.88,393.3 L630.00,393.5 L630.12,393.1 L630.24,393.6 L630.36,393.6 L630.48,393.4 L630.60,394.0 L630.72,393.5 L630.84,393.5 L630.96,393.2 L631.08,393.0 L631.20,393.3 L631.32,393.3 L631.44,393.3 L631.56,393.7 L631.68,392.8 L631.80,393.1 L631.92,392.9 L632.04,393.8 L632.16,393.3 L632.28,393.3 L632.40,393.1 L632.52,393.7 L632.64,393.3 L632.76,393.5 L632.88,392.9 L633.00,393.8 L633.12,393.6 L633.24,393.6 L633.36,393.8 L633.48,393.4 L633.60,393.4 L633.72,393.7 L633.84,393.6 L633.96,393.4 L634.08,393.5 L634.20,393.3 L634.32,393.7 L634.44,393.8 L634.56,393.5 L634.68,394.0 L634.80,393.1 L634.92,393.5 L635.04,394.0 L635.16,393.4 L635.28,393.1 L635.40,393.9 L635.52,393.7 L635.64,393.2 L635.76,393.8 L635.88,393.3 L636.00,393.2 L636.12,393.5 L636.24,393.4 L636.36,393.2 L636.48,393.4 L636.60,393.3 L636.72,393.6 L636.84,393.5 L636.96,393.8 L637.08,393.4 L637.20,393.2 L637.32,393.2 L637.44,393.5 L637.56,394.0 L637.68,393.8 L637.80,393.4 L637.92,393.8 L638.04,393.2 L638.16,393.8 L638.28,393.4 L638.40,393.7 L638.52,393.7 L638.64,393.4 L638.76,393.6 L638.88,393.2 L639.00,393.5 L639.12,393.8 L639.24,394.6 L639.36,393.7 L639.48,393.5 L639.60,393.2 L639.72,393.8 L639.84,393.0 L639.96,393.3 L640.08,393.6 L640.20,393.1 L640.32,393.9 L640.44,393.8 L640.56,393.3 L640.68,393.3 L640.80,393.1 L640.92,393.1 L641.04,393.6 L641.16,393.7 L641.28,393.6 L641.40,393.6 L641.52,393.3 L641.64,393.6 L641.76,393.1 L641.88,393.5 L642.00,393.9 L642.12,393.9 L642.24,393.4 L642.36,393.4 L642.48,393.9 L642.60,394.0 L642.72,393.1 L642.84,393.4 L642.96,393.6 L643.08,393.9 L643.20,393.3 L643.32,393.7 L643.44,393.5 L643.56,394.2 L643.68,393.7 L643.80,393.5 L643.92,393.5 L644.04,393.9 L644.16,393.8 L644.28,393.3 L644.40,393.7 L644.52,393.3 L644.64,393.4 L644.76,393.3 L644.88,393.3 L645.00,393.4 L645.12,393.4 L645.24,393.8 L645.36,393.9 L645.48,393.6 L645.60,393.3 L645.72,393.9 L645.84,393.1 L645.96,393.1 L646.08,393.8 L646.20,393.8 L646.32,393.9 L646.44,393.6 L646.56,393.3 L646.68,393.5 L646.80,393.8 L646.92,393.4 L647.04,393.5 L647.16,393.3 L647.28,393.3 L647.40,393.9 L647.52,393.8 L647.64,393.3 L647.76,393.3 L647.88,393.5 L648.00,393.8 L648.12,393.3 L648.24,393.6 L648.36,393.1 L648.48,393.3 L648.60,393.7 L648.72,393.9 L648.84,393.3 L648.96,393.4 L649.08,393.8 L649.20,393.5 L649.32,393.5 L649.44,393.7 L649.56,393.7 L649.68,393.9 L649.80,393.8 L649.92,393.4 L650.04,393.6 L650.16,393.6 L650.28,393.2 L650.40,393.3 L650.52,393.8 L650.64,393.2 L650.76,393.9 L650.88,393.7 L651.00,393.6 L651.12,393.7 L651.24,393.7 L651.36,393.9 L651.48,393.5 L651.60,393.5 L651.72,393.5 L651.84,394.1 L651.96,393.8 L652.08,393.4 L652.20,393.5 L652.32,393.4 L652.44,393.6 L652.56,393.6 L652.68,394.2 L652.80,393.1 L652.92,393.9 L653.04,393.7 L653.16,393.4 L653.28,393.6 L653.40,393.5 L653.52,393.6 L653.64,393.9 L653.76,393.2 L653.88,393.9 L654.00,393.5 L654.12,394.0 L654.24,393.7 L654.36,393.9 L654.48,393.8 L654.60,393.9 L654.72,393.6 L654.84,393.4 L654.96,393.8 L655.08,393.8 L655.20,394.2 L655.32,393.2 L655.44,393.6 L655.56,393.9 L655.68,393.4 L655.80,393.6 L655.92,394.2 L656.04,394.0 L656.16,393.5 L656.28,394.0 L656.40,394.0 L656.52,393.9 L656.64,393.8 L656.76,393.8 L656.88,393.5 L657.00,393.6 L657.12,393.9 L657.24,393.8 L657.36,394.2 L657.48,393.7 L657.60,393.2 L657.72,393.7 L657.84,393.8 L657.96,393.9 L658.08,393.8 L658.20,393.6 L658.32,394.1 L658.44,393.6 L658.56,394.0 L658.68,393.7 L658.80,393.5 L658.92,394.1 L659.04,393.2 L659.16,393.6 L659.28,393.9 L659.40,393.7 L659.52,394.0 L659.64,393.8 L659.76,393.7 L659.88,394.3 L660.00,393.8 L660.12,393.8 L660.24,393.6 L660.36,393.6 L660.48,394.0 L660.60,394.0 L660.72,393.8 L660.84,393.7 L660.96,394.0 L661.08,393.4 L661.20,393.8 L661.32,393.8 L661.44,393.6 L661.56,393.9 L661.68,393.7 L661.80,393.7 L661.92,394.3 L662.04,394.0 L662.16,394.1 L662.28,393.9 L662.40,394.1 L662.52,394.0 L662.64,394.1 L662.76,394.4 L662.88,393.8 L663.00,393.9 L663.12,393.9 L663.24,393.1 L663.36,393.6 L663.48,393.9 L663.60,394.0 L663.72,393.8 L663.84,394.1 L663.96,394.2 L664.08,393.8 L664.20,394.2 L664.32,394.3 L664.44,394.0 L664.56,393.7 L664.68,394.2 L664.80,393.9 L664.92,393.8 L665.04,393.9 L665.16,393.8 L665.28,394.1 L665.40,394.1 L665.52,394.2 L665.64,394.0 L665.76,393.8 L665.88,393.9 L666.00,394.1 L666.12,393.8 L666.24,394.6 L666.36,393.9 L666.48,393.8 L666.60,394.2 L666.72,394.1 L666.84,393.9 L666.96,393.9 L667.08,394.0 L667.20,394.1 L667.32,394.1 L667.44,393.9 L667.56,394.1 L667.68,394.2 L667.80,394.1 L667.92,393.3 L668.04,393.8 L668.16,393.8 L668.28,393.9 L668.40,394.0 L668.52,394.2 L668.64,394.1 L668.76,394.0 L668.88,394.0 L669.00,394.4 L669.12,393.9 L669.24,394.1 L669.36,394.3 L669.48,394.1 L669.60,393.6 L669.72,394.1 L669.84,393.9 L669.96,394.0 L670.08,394.2 L670.20,394.1 L670.32,394.0 L670.44,394.2 L670.56,394.1 L670.68,394.1 L670.80,394.1 L670.92,394.1 L671.04,394.0 L671.16,394.0 L671.28,394.1 L671.40,393.9 L671.52,393.8 L671.64,394.3 L671.76,394.0 L671.88,394.0 L672.00,394.0 L672.12,394.1 L672.24,394.1 L672.36,394.1 L672.48,393.9 L672.60,394.2 L672.72,393.9 L672.84,394.3 L672.96,393.7 L673.08,393.9 L673.20,394.3 L673.32,394.1 L673.44,394.0" stroke="#348ABD" stroke-width="3.7" fill="none" stroke-linejoin="round" stroke-linecap="round"/>
<path d="M114.4,394.18V424.4M142.9,394.18V424.4M210.8,394.18V424.4M251.5,394.18V424.4M284.6,394.18V424.4M315.1,394.18V424.4M347.2,394.18V424.4M401.3,394.18V424.4M451.3,394.18V424.4M496.9,394.18V424.4" stroke="#0000ff" stroke-width="3.4" fill="none"/>
<path d="M80.50,424.4v-5.5M146.50,424.4v-5.5M212.50,424.4v-5.5M278.50,424.4v-5.5M344.50,424.4v-5.5M409.50,424.4v-5.5M475.50,424.4v-5.5M541.50,424.4v-5.5M607.50,424.4v-5.5M673.50,424.4v-5.5M80.4,394.50h5.5M80.4,333.50h5.5M80.4,273.50h5.5M80.4,212.50h5.5M80.4,152.50h5.5M80.4,91.50h5.5M80.4,31.50h5.5" stroke="#222" stroke-width="1.1" fill="none"/>
<rect x="80.4" y="31.5" width="593.2" height="392.9" fill="none" stroke="#bcbcbc" stroke-width="1.2"/>
<g opacity="0.999">
<text x="70.00" y="444.4" font-size="17.3" textLength="20.88" lengthAdjust="spacingAndGlyphs" fill="#000" stroke="#000" stroke-width="0.5">15</text>
<text x="135.86" y="444.4" font-size="17.3" textLength="22.55" lengthAdjust="spacingAndGlyphs" fill="#000" stroke="#000" stroke-width="0.5">20</text>
<text x="201.37" y="444.4" font-size="17.3" textLength="22.55" lengthAdjust="spacingAndGlyphs" fill="#000" stroke="#000" stroke-width="0.5">25</text>
<text x="267.28" y="444.4" font-size="17.3" textLength="22.55" lengthAdjust="spacingAndGlyphs" fill="#000" stroke="#000" stroke-width="0.5">30</text>
<text x="333.19" y="444.4" font-size="17.3" textLength="22.55" lengthAdjust="spacingAndGlyphs" fill="#000" stroke="#000" stroke-width="0.5">35</text>
<text x="399.11" y="444.4" font-size="17.3" textLength="22.55" lengthAdjust="spacingAndGlyphs" fill="#000" stroke="#000" stroke-width="0.5">40</text>
<text x="465.02" y="444.4" font-size="17.3" textLength="22.55" lengthAdjust="spacingAndGlyphs" fill="#000" stroke="#000" stroke-width="0.5">45</text>
<text x="530.93" y="444.4" font-size="17.3" textLength="22.55" lengthAdjust="spacingAndGlyphs" fill="#000" stroke="#000" stroke-width="0.5">50</text>
<text x="596.84" y="444.4" font-size="17.3" textLength="22.55" lengthAdjust="spacingAndGlyphs" fill="#000" stroke="#000" stroke-width="0.5">55</text>
<text x="662.75" y="444.4" font-size="17.3" textLength="22.55" lengthAdjust="spacingAndGlyphs" fill="#000" stroke="#000" stroke-width="0.5">60</text>
<text x="63.05" y="401.3" font-size="17.3" textLength="10.69" lengthAdjust="spacingAndGlyphs" fill="#000" stroke="#000" stroke-width="0.5">0</text>
<text x="29.50" y="340.8" font-size="17.3" textLength="44.54" lengthAdjust="spacingAndGlyphs" fill="#000" stroke="#000" stroke-width="0.5">1000</text>
<text x="29.50" y="280.4" font-size="17.3" textLength="44.54" lengthAdjust="spacingAndGlyphs" fill="#000" stroke="#000" stroke-width="0.5">2000</text>
<text x="29.50" y="219.9" font-size="17.3" textLength="44.54" lengthAdjust="spacingAndGlyphs" fill="#000" stroke="#000" stroke-width="0.5">3000</text>
<text x="29.50" y="159.5" font-size="17.3" textLength="44.54" lengthAdjust="spacingAndGlyphs" fill="#000" stroke="#000" stroke-width="0.5">4000</text>
<text x="29.50" y="99.0" font-size="17.3" textLength="44.54" lengthAdjust="spacingAndGlyphs" fill="#000" stroke="#000" stroke-width="0.5">5000</text>
<text x="29.50" y="38.6" font-size="17.3" textLength="44.54" lengthAdjust="spacingAndGlyphs" fill="#000" stroke="#000" stroke-width="0.5">6000</text>
<text x="197.00" y="21.5" font-size="25.3" textLength="157.09" lengthAdjust="spacingAndGlyphs" fill="#000" stroke="#000" stroke-width="0.3">Determining</text>
<text x="363.25" y="21.5" font-size="25.3" textLength="45.05" lengthAdjust="spacingAndGlyphs" fill="#000" stroke="#000" stroke-width="0.3">the</text>
<text x="414.25" y="21.5" font-size="25.3" textLength="60.33" lengthAdjust="spacingAndGlyphs" fill="#000" stroke="#000" stroke-width="0.3">seed</text>
<text x="483.75" y="21.5" font-size="25.3" textLength="74.33" lengthAdjust="spacingAndGlyphs" fill="#000" stroke="#000" stroke-width="0.3">peaks</text>
<text x="304.25" y="471.6" font-size="21.3" textLength="71.27" lengthAdjust="spacingAndGlyphs" fill="#000" stroke="#000" stroke-width="0.5">Energy</text>
<text x="384.00" y="471.6" font-size="21.3" textLength="18.38" lengthAdjust="spacingAndGlyphs" fill="#000" stroke="#000" stroke-width="0.5">in</text>
<text x="409.25" y="471.6" font-size="21.3" textLength="39.79" lengthAdjust="spacingAndGlyphs" fill="#000" stroke="#000" stroke-width="0.5">keV</text>
<text transform="translate(18.4,275.40) rotate(-90)" font-size="21.3" textLength="93.03" lengthAdjust="spacingAndGlyphs" fill="#000" stroke="#000" stroke-width="0.5">Intensity</text>
<rect x="273.3" y="40.6" width="391.4" height="57.0" rx="3" ry="3" fill="#eeeeee" fill-opacity="0.8" stroke="#cccccc" stroke-opacity="0.8" stroke-width="1"/>
<path d="M278.2,54.6H317" stroke="#348ABD" stroke-width="3.7"/>
<path d="M279.2,80.4H316" stroke="#0000ff" stroke-width="3.2"/>
<text x="329.75" y="61.6" font-size="18.0" textLength="90.80" lengthAdjust="spacingAndGlyphs" fill="#000" stroke="#000" stroke-width="0.5">Intensities</text>
<text x="427.00" y="61.6" font-size="18.0" textLength="76.02" lengthAdjust="spacingAndGlyphs" fill="#000" stroke="#000" stroke-width="0.5">summed</text>
<text x="509.75" y="61.6" font-size="18.0" textLength="38.77" lengthAdjust="spacingAndGlyphs" fill="#000" stroke="#000" stroke-width="0.5">over</text>
<text x="554.50" y="61.6" font-size="18.0" textLength="19.39" lengthAdjust="spacingAndGlyphs" fill="#000" stroke="#000" stroke-width="0.5">all</text>
<text x="582.00" y="61.6" font-size="18.0" textLength="75.01" lengthAdjust="spacingAndGlyphs" fill="#000" stroke="#000" stroke-width="0.5">datasets</text>
<text x="330.00" y="87.4" font-size="18.0" textLength="88.57" lengthAdjust="spacingAndGlyphs" fill="#000" stroke="#000" stroke-width="0.5">Estimated</text>
<text x="425.00" y="87.4" font-size="18.0" textLength="50.76" lengthAdjust="spacingAndGlyphs" fill="#000" stroke="#000" stroke-width="0.5">seeds</text>
<text x="482.00" y="87.4" font-size="18.0" textLength="22.75" lengthAdjust="spacingAndGlyphs" fill="#000" stroke="#000" stroke-width="0.5">for</text>
<text x="512.00" y="87.4" font-size="18.0" textLength="42.01" lengthAdjust="spacingAndGlyphs" fill="#000" stroke="#000" stroke-width="0.5">peak</text>
<text x="561.75" y="87.4" font-size="18.0" textLength="92.78" lengthAdjust="spacingAndGlyphs" fill="#000" stroke="#000" stroke-width="0.5">estimation</text>
</g>
</svg>
</body></html>
